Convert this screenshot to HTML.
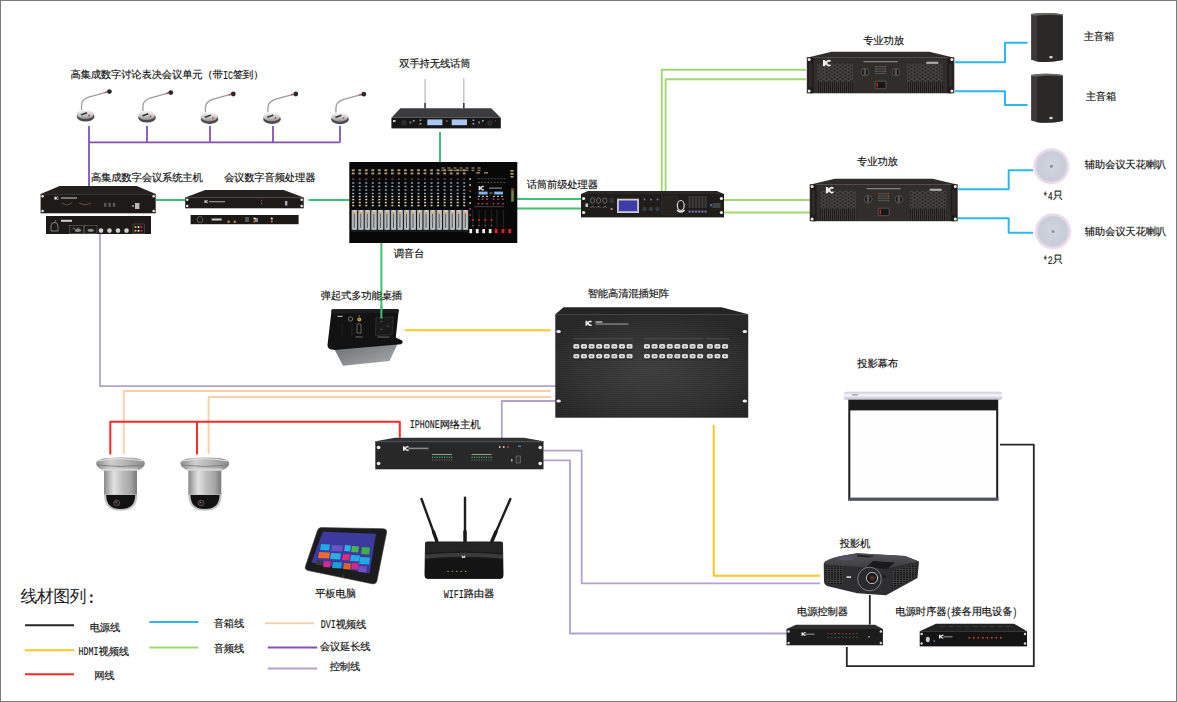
<!DOCTYPE html><html><head><meta charset="utf-8"><style>
html,body{margin:0;padding:0;background:#fff;overflow:hidden;}
svg{display:block;font-family:"Liberation Sans", sans-serif;}
text{text-rendering:geometricPrecision;}
</style></head><body>
<svg width="1177" height="702" viewBox="0 0 1177 702">
<defs>
<linearGradient id="micbase" x1="0" y1="0" x2="0" y2="1"><stop offset="0" stop-color="#fafafa"/><stop offset="0.6" stop-color="#c4c4c4"/><stop offset="1" stop-color="#8a8a8a"/></linearGradient>
<linearGradient id="cam" x1="0" y1="0" x2="1" y2="0"><stop offset="0" stop-color="#8a8a8a"/><stop offset="0.3" stop-color="#e2e2e2"/><stop offset="0.55" stop-color="#bdbdbd"/><stop offset="0.8" stop-color="#a6a6a6"/><stop offset="1" stop-color="#7a7a7a"/></linearGradient>
<linearGradient id="camfl" x1="0" y1="0" x2="1" y2="0"><stop offset="0" stop-color="#8a8a8a"/><stop offset="0.3" stop-color="#cfcfcf"/><stop offset="0.6" stop-color="#b5b5b5"/><stop offset="1" stop-color="#8c8c8c"/></linearGradient>
<radialGradient id="ceil" cx="0.5" cy="0.5" r="0.5"><stop offset="0" stop-color="#d2d6e0"/><stop offset="0.8" stop-color="#c8ccd8"/><stop offset="0.87" stop-color="#e4dae8"/><stop offset="1" stop-color="#f5deee"/></radialGradient>
<linearGradient id="sock" x1="0" y1="0" x2="1" y2="1"><stop offset="0" stop-color="#6a6e71"/><stop offset="0.6" stop-color="#8e9295"/><stop offset="1" stop-color="#a9adb0"/></linearGradient>
<linearGradient id="roller" x1="0" y1="0" x2="0" y2="1"><stop offset="0" stop-color="#cdcad8"/><stop offset="0.45" stop-color="#f6f6fa"/><stop offset="1" stop-color="#bcb9ca"/></linearGradient>
<radialGradient id="mat" cx="0.5" cy="0.55" r="0.6"><stop offset="0" stop-color="#424242"/><stop offset="0.6" stop-color="#363636"/><stop offset="1" stop-color="#2a2a2a"/></radialGradient>
<linearGradient id="spk" x1="0" y1="0" x2="0" y2="1"><stop offset="0" stop-color="#5a5756"/><stop offset="0.08" stop-color="#2e2c2b"/><stop offset="1" stop-color="#2a2828"/></linearGradient>
<linearGradient id="proj" x1="0" y1="0" x2="0" y2="1"><stop offset="0" stop-color="#55555a"/><stop offset="1" stop-color="#3a3a3e"/></linearGradient>
<linearGradient id="fader" x1="0" y1="0" x2="1" y2="0"><stop offset="0" stop-color="#9ea5aa"/><stop offset="0.5" stop-color="#c9cfd2"/><stop offset="1" stop-color="#a9b0b4"/></linearGradient>
<pattern id="grill" width="5.5" height="3.4" patternUnits="userSpaceOnUse"><rect width="5.5" height="3.4" fill="#4a4542"/><circle cx="1.4" cy="0.85" r="0.95" fill="#1a1715"/><circle cx="4.15" cy="2.55" r="0.95" fill="#1a1715"/></pattern>
<pattern id="vent" width="2" height="2" patternUnits="userSpaceOnUse"><rect width="2" height="2" fill="#3c3836"/><rect width="1" height="2" fill="#1d1a18"/></pattern>
<pattern id="pvent" width="3" height="2.2" patternUnits="userSpaceOnUse"><rect width="3" height="2.2" fill="#444"/><rect width="2.2" height="1.3" fill="#111"/></pattern>
<pattern id="brush" width="4" height="2" patternUnits="userSpaceOnUse"><rect width="4" height="1" fill="#000" opacity="0.1"/></pattern>
</defs>
<rect x="0.5" y="0.5" width="1176" height="701" fill="#fff" stroke="#7a7a7a" stroke-width="1"/>

<path d="M89.00,126.00 L89.00,194.00" fill="none" stroke="#8650b8" stroke-width="1.8" stroke-linejoin="round" />
<path d="M89.00,142.30 L340.00,142.30" fill="none" stroke="#8650b8" stroke-width="1.8" stroke-linejoin="round" />
<path d="M147.00,126.00 L147.00,142.30" fill="none" stroke="#8650b8" stroke-width="1.8" stroke-linejoin="round" />
<path d="M210.00,126.00 L210.00,142.30" fill="none" stroke="#8650b8" stroke-width="1.8" stroke-linejoin="round" />
<path d="M273.00,126.00 L273.00,142.30" fill="none" stroke="#8650b8" stroke-width="1.8" stroke-linejoin="round" />
<path d="M340.00,126.00 L340.00,142.30" fill="none" stroke="#8650b8" stroke-width="1.8" stroke-linejoin="round" />
<path d="M156.00,200.00 L186.00,200.00" fill="none" stroke="#3cc172" stroke-width="2" stroke-linejoin="round" />
<path d="M308.50,200.00 L349.00,200.00" fill="none" stroke="#3cc172" stroke-width="2" stroke-linejoin="round" />
<path d="M440.00,132.00 L440.00,162.00" fill="none" stroke="#3cc172" stroke-width="2" stroke-linejoin="round" />
<path d="M517.00,199.00 L581.00,199.00" fill="none" stroke="#3cc172" stroke-width="2" stroke-linejoin="round" />
<path d="M517.00,208.60 L581.00,208.60" fill="none" stroke="#3cc172" stroke-width="2" stroke-linejoin="round" />
<path d="M381.40,243.00 L381.40,318.60" fill="none" stroke="#3cc172" stroke-width="2" stroke-linejoin="round" />
<path d="M806.00,69.80 L661.70,69.80 L661.70,191.00" fill="none" stroke="#a0d870" stroke-width="1.9" stroke-linejoin="round" />
<path d="M806.00,79.30 L665.60,79.30 L665.60,191.00" fill="none" stroke="#a0d870" stroke-width="1.9" stroke-linejoin="round" />
<path d="M724.00,200.00 L810.00,200.00" fill="none" stroke="#a0d870" stroke-width="1.9" stroke-linejoin="round" />
<path d="M724.00,212.50 L810.00,212.50" fill="none" stroke="#a0d870" stroke-width="1.9" stroke-linejoin="round" />
<path d="M955.00,62.20 L1005.00,62.20 L1005.00,42.70 L1027.60,42.70" fill="none" stroke="#2bb8ee" stroke-width="2" stroke-linejoin="round" />
<path d="M955.00,91.20 L1005.00,91.20 L1005.00,105.10 L1027.60,105.10" fill="none" stroke="#2bb8ee" stroke-width="2" stroke-linejoin="round" />
<path d="M958.00,189.30 L1008.70,189.30 L1008.70,170.30 L1033.00,170.30" fill="none" stroke="#2bb8ee" stroke-width="2" stroke-linejoin="round" />
<path d="M958.00,218.30 L1008.70,218.30 L1008.70,232.70 L1033.00,232.70" fill="none" stroke="#2bb8ee" stroke-width="2" stroke-linejoin="round" />
<path d="M100.00,234.00 L100.00,386.20 L558.00,386.20" fill="none" stroke="#b3a2cc" stroke-width="1.8" stroke-linejoin="round" />
<path d="M501.80,441.00 L501.80,401.00 L559.00,401.00" fill="none" stroke="#b3a2cc" stroke-width="1.8" stroke-linejoin="round" />
<path d="M543.50,450.70 L581.70,450.70 L581.70,583.30 L820.00,583.30" fill="none" stroke="#b3a2cc" stroke-width="1.8" stroke-linejoin="round" />
<path d="M543.50,460.30 L570.00,460.30 L570.00,633.50 L786.70,633.50" fill="none" stroke="#b3a2cc" stroke-width="1.8" stroke-linejoin="round" />
<path d="M123.80,454.00 L123.80,391.00 L550.50,391.00" fill="none" stroke="#f7cfaa" stroke-width="1.9" stroke-linejoin="round" />
<path d="M208.60,454.00 L208.60,397.00 L551.00,397.00" fill="none" stroke="#f7cfaa" stroke-width="1.9" stroke-linejoin="round" />
<path d="M110.30,454.40 L110.30,421.80 L399.80,421.80 L399.80,437.70" fill="none" stroke="#ff2a2a" stroke-width="2" stroke-linejoin="round" />
<path d="M197.00,421.80 L197.00,454.40" fill="none" stroke="#ff2a2a" stroke-width="2" stroke-linejoin="round" />
<path d="M405.00,330.20 L550.70,330.20" fill="none" stroke="#ffc428" stroke-width="2" stroke-linejoin="round" />
<path d="M713.70,425.00 L713.70,575.80 L820.00,575.80" fill="none" stroke="#ffc428" stroke-width="2" stroke-linejoin="round" />
<path d="M869.80,595.00 L869.80,624.60" fill="none" stroke="#262626" stroke-width="1.8" stroke-linejoin="round" />
<path d="M846.80,647.00 L846.80,666.20 L1033.80,666.20 L1033.80,444.60 L1000.00,444.60" fill="none" stroke="#262626" stroke-width="1.8" stroke-linejoin="round" />
<g transform="translate(0,0)">
<path d="M81.6,110 C81.1,102 82.1,99.5 88.6,97 L107.6,91.8" fill="none" stroke="#9c9c9c" stroke-width="1.3"/>
<line x1="104.6" y1="92.6" x2="107.1" y2="91.9" stroke="#c44" stroke-width="1.3"/>
<circle cx="109.39999999999999" cy="91.6" r="2.4" fill="#2a2a2a"/>
<ellipse cx="85.6" cy="116.6" rx="8.8" ry="5" fill="#4a4a4a"/>
<ellipse cx="85.3" cy="114.4" rx="8.3" ry="4.7" fill="url(#micbase)"/>
<path d="M80.6,114.2 L86.6,112 L87.39999999999999,113.4 L81.39999999999999,115.6 Z" fill="#2e3a34"/>
<circle cx="89.1" cy="115.5" r="0.9" fill="#e03030"/>
</g>
<g transform="translate(0,1)">
<path d="M143,110 C142.5,102 143.5,99.5 150,97 L169,91.8" fill="none" stroke="#9c9c9c" stroke-width="1.3"/>
<line x1="166" y1="92.6" x2="168.5" y2="91.9" stroke="#c44" stroke-width="1.3"/>
<circle cx="170.8" cy="91.6" r="2.4" fill="#2a2a2a"/>
<ellipse cx="147" cy="116.6" rx="8.8" ry="5" fill="#4a4a4a"/>
<ellipse cx="146.7" cy="114.4" rx="8.3" ry="4.7" fill="url(#micbase)"/>
<path d="M142,114.2 L148,112 L148.8,113.4 L142.8,115.6 Z" fill="#2e3a34"/>
<circle cx="150.5" cy="115.5" r="0.9" fill="#e03030"/>
</g>
<g transform="translate(0,2.4)">
<path d="M205.5,110 C205.0,102 206.0,99.5 212.5,97 L231.5,91.8" fill="none" stroke="#9c9c9c" stroke-width="1.3"/>
<line x1="228.5" y1="92.6" x2="231.0" y2="91.9" stroke="#c44" stroke-width="1.3"/>
<circle cx="233.3" cy="91.6" r="2.4" fill="#2a2a2a"/>
<ellipse cx="209.5" cy="116.6" rx="8.8" ry="5" fill="#4a4a4a"/>
<ellipse cx="209.2" cy="114.4" rx="8.3" ry="4.7" fill="url(#micbase)"/>
<path d="M204.5,114.2 L210.5,112 L211.3,113.4 L205.3,115.6 Z" fill="#2e3a34"/>
<circle cx="213.0" cy="115.5" r="0.9" fill="#e03030"/>
</g>
<g transform="translate(0,2.4)">
<path d="M268,110 C267.5,102 268.5,99.5 275,97 L294,91.8" fill="none" stroke="#9c9c9c" stroke-width="1.3"/>
<line x1="291" y1="92.6" x2="293.5" y2="91.9" stroke="#c44" stroke-width="1.3"/>
<circle cx="295.8" cy="91.6" r="2.4" fill="#2a2a2a"/>
<ellipse cx="272" cy="116.6" rx="8.8" ry="5" fill="#4a4a4a"/>
<ellipse cx="271.7" cy="114.4" rx="8.3" ry="4.7" fill="url(#micbase)"/>
<path d="M267,114.2 L273,112 L273.8,113.4 L267.8,115.6 Z" fill="#2e3a34"/>
<circle cx="275.5" cy="115.5" r="0.9" fill="#e03030"/>
</g>
<g transform="translate(0,2.6)">
<path d="M336,110 C335.5,102 336.5,99.5 343,97 L362,91.8" fill="none" stroke="#9c9c9c" stroke-width="1.3"/>
<line x1="359" y1="92.6" x2="361.5" y2="91.9" stroke="#c44" stroke-width="1.3"/>
<circle cx="363.8" cy="91.6" r="2.4" fill="#2a2a2a"/>
<ellipse cx="340" cy="116.6" rx="8.8" ry="5" fill="#4a4a4a"/>
<ellipse cx="339.7" cy="114.4" rx="8.3" ry="4.7" fill="url(#micbase)"/>
<path d="M335,114.2 L341,112 L341.8,113.4 L335.8,115.6 Z" fill="#2e3a34"/>
<circle cx="343.5" cy="115.5" r="0.9" fill="#e03030"/>
</g>
<polygon points="59.6,186 136.7,186 155.7,194 40.6,194" fill="#24201d"/>
<rect x="40.60" y="194.00" width="115.10" height="19.30" fill="#1d1a17" />
<circle cx="42.6" cy="196.3" r="1.3" fill="#e8e8e8"/>
<circle cx="42.6" cy="211.0" r="1.3" fill="#e8e8e8"/>
<circle cx="153.7" cy="196.3" r="1.3" fill="#e8e8e8"/>
<circle cx="153.7" cy="211.0" r="1.3" fill="#e8e8e8"/>
<line x1="40.6" y1="194.4" x2="155.7" y2="194.4" stroke="#4a4542" stroke-width="0.6"/>
<path d="M54.5,196.6 L55.396,196.6 L56.484,198.2 L55.396,199.79999999999998 L54.5,199.79999999999998 Z" fill="#eee"/>
<path d="M58.403999999999996,197.23999999999998 Q57.7,196.856 57.38,196.92 Q56.292,197.23999999999998 56.292,198.2 Q56.292,199.16 57.38,199.48 Q57.7,199.54399999999998 58.403999999999996,199.16" stroke="#eee" stroke-width="0.96" fill="none"/>
<rect x="61.00" y="197.20" width="16.00" height="1.60" fill="#8a8a8a" />
<path d="M61.6,203 L67,205 L72,203 M79,203 L85,205 L91,203" stroke="#a46a5a" stroke-width="0.6" fill="none"/>
<rect x="104.00" y="202.80" width="2.40" height="4.00" fill="#5a5653" />
<rect x="108.40" y="202.80" width="2.40" height="4.00" fill="#5a5653" />
<rect x="112.80" y="202.80" width="2.40" height="4.00" fill="#5a5653" />
<rect x="135.00" y="203.00" width="4.40" height="6.00" fill="#bbb" />
<rect x="132.00" y="205.00" width="2.00" height="2.00" fill="#888" />
<rect x="46.00" y="216.00" width="105.00" height="18.00" fill="#1c1917" />
<path d="M51,231 L51,226 Q51,222.5 54.5,222.5 Q58,222.5 58,226 L58,231 Z" fill="none" stroke="#aaa" stroke-width="0.7"/>
<line x1="54.5" y1="222.5" x2="56" y2="220" stroke="#aaa" stroke-width="0.6"/>
<rect x="61.00" y="219.80" width="11.00" height="2.00" fill="#cfcfcf" />
<rect x="69.40" y="225.70" width="14.00" height="7.60" fill="none" stroke="#777" stroke-width="0.5"/>
<rect x="84.40" y="225.70" width="12.60" height="7.60" fill="none" stroke="#777" stroke-width="0.5"/>
<path d="M72,229.5 L74,227.5 L76,231.5 L78,227.5 L80,229.5" stroke="#999" stroke-width="0.6" fill="none"/>
<ellipse cx="90.7" cy="230.3" rx="3.2" ry="1.6" fill="#8a8a8a"/>
<ellipse cx="78" cy="230.3" rx="3.2" ry="1.6" fill="#8a8a8a"/>
<circle cx="101" cy="230.6" r="2.3" fill="#d0d0d0"/>
<circle cx="109.5" cy="230.6" r="2.3" fill="#d0d0d0"/>
<circle cx="118" cy="230.6" r="2.3" fill="#d0d0d0"/>
<circle cx="126.5" cy="230.6" r="2.3" fill="#d0d0d0"/>
<circle cx="135.5" cy="227" r="1" fill="#e0c030"/>
<circle cx="135.5" cy="230.8" r="1" fill="#e0c030"/>
<circle cx="138.5" cy="227" r="1" fill="#eeeeee"/>
<circle cx="138.5" cy="230.8" r="1" fill="#eeeeee"/>
<circle cx="141.5" cy="227" r="1" fill="#d03030"/>
<circle cx="141.5" cy="230.8" r="1" fill="#d03030"/>
<rect x="133.00" y="224.00" width="11.50" height="9.50" fill="none" stroke="#666" stroke-width="0.5"/>
<polygon points="205.2,190 283.7,190 303.7,197.4 185.2,197.4" fill="#24201d"/>
<rect x="185.20" y="197.40" width="118.50" height="10.90" fill="#1d1a17" />
<circle cx="187.2" cy="199.70000000000002" r="1.3" fill="#e8e8e8"/>
<circle cx="187.2" cy="206.0" r="1.3" fill="#e8e8e8"/>
<circle cx="301.7" cy="199.70000000000002" r="1.3" fill="#e8e8e8"/>
<circle cx="301.7" cy="206.0" r="1.3" fill="#e8e8e8"/>
<line x1="185.2" y1="197.8" x2="303.7" y2="197.8" stroke="#4a4542" stroke-width="0.6"/>
<path d="M204.5,200.2 L205.284,200.2 L206.236,201.6 L205.284,203.0 L204.5,203.0 Z" fill="#eee"/>
<path d="M207.916,200.76 Q207.3,200.42399999999998 207.02,200.48 Q206.068,200.76 206.068,201.6 Q206.068,202.44 207.02,202.72 Q207.3,202.77599999999998 207.916,202.44" stroke="#eee" stroke-width="0.84" fill="none"/>
<rect x="209.00" y="201.00" width="16.00" height="1.30" fill="#888" />
<circle cx="261.5" cy="200.5" r="0.7" fill="#d33"/><circle cx="261.5" cy="203.5" r="0.7" fill="#777"/>
<rect x="285.00" y="201.00" width="2.40" height="4.50" fill="#aab" />
<rect x="190.60" y="215.00" width="108.00" height="9.20" fill="#1c1917" />
<circle cx="200" cy="219.5" r="3" fill="none" stroke="#888" stroke-width="0.6"/>
<rect x="211.60" y="218.50" width="10.00" height="2.00" fill="#ccc" />
<circle cx="228.6" cy="221.8" r="1.2" fill="#b8962a"/><circle cx="234.8" cy="221.8" r="1.2" fill="#b8962a"/>
<rect x="245.00" y="217.00" width="4.00" height="5.00" fill="#555" />
<rect x="255.00" y="218.00" width="3.00" height="4.00" fill="#888" />
<circle cx="254.5" cy="218.5" r="1.1" fill="#eee"/><circle cx="254.5" cy="221.5" r="1.1" fill="#e07040"/>
<circle cx="271.8" cy="218.5" r="1.1" fill="#eee"/><circle cx="271.8" cy="221.5" r="1.1" fill="#e07040"/>
<line x1="425.1" y1="79" x2="425.1" y2="108.5" stroke="#b8b8b8" stroke-width="1.2"/>
<line x1="463.8" y1="78.3" x2="463.8" y2="108.5" stroke="#b8b8b8" stroke-width="1.2"/>
<line x1="425.1" y1="103" x2="425.1" y2="108.5" stroke="#333" stroke-width="1.5"/>
<line x1="463.8" y1="103" x2="463.8" y2="108.5" stroke="#333" stroke-width="1.5"/>
<polygon points="400.4,108.2 491.2,108.2 500.8,117.8 391.4,117.8" fill="#3c3c3e"/>
<rect x="391.40" y="117.80" width="109.40" height="10.60" fill="#161616" />
<rect x="427.30" y="119.40" width="15.10" height="5.80" fill="#a9c6ee" />
<rect x="451.70" y="119.40" width="15.30" height="5.80" fill="#a9c6ee" />
<circle cx="446.8" cy="121" r="0.9" fill="#d04030"/>
<rect x="419.50" y="119.50" width="1.80" height="1.60" fill="#999" />
<rect x="419.50" y="123.00" width="1.80" height="1.60" fill="#999" />
<rect x="472.50" y="119.50" width="1.80" height="1.60" fill="#999" />
<rect x="472.50" y="123.00" width="1.80" height="1.60" fill="#999" />
<rect x="393.00" y="120.00" width="2.50" height="2.00" fill="#ccc" />
<circle cx="404" cy="123" r="2.2" fill="#222" stroke="#555" stroke-width="0.5"/><circle cx="404" cy="122" r="0.5" fill="#c33"/>
<circle cx="490" cy="123" r="2.2" fill="#222" stroke="#555" stroke-width="0.5"/><circle cx="495.5" cy="120.5" r="0.6" fill="#c33"/>
<rect x="409.50" y="121.50" width="2.00" height="2.00" fill="#777" />
<rect x="413.00" y="120.00" width="1.60" height="1.60" fill="#aaa" />
<rect x="478.00" y="121.50" width="2.00" height="2.00" fill="#777" />
<rect x="482.00" y="120.00" width="1.60" height="1.60" fill="#aaa" />
<rect x="349.30" y="162.00" width="168.00" height="81.00" fill="#080808" />
<rect x="351.80" y="169.30" width="2.80" height="1.90" fill="#b09a70" />
<rect x="351.80" y="172.50" width="2.80" height="1.90" fill="#b09a70" />
<rect x="352.30" y="178.40" width="1.80" height="1.40" fill="#a04060" />
<rect x="352.20" y="182.30" width="2.00" height="1.40" fill="#8fb0d0" />
<rect x="352.20" y="185.80" width="2.00" height="1.40" fill="#8fb0d0" />
<rect x="352.20" y="189.30" width="2.00" height="1.40" fill="#8fb0d0" />
<rect x="352.20" y="192.80" width="2.00" height="1.40" fill="#8fb0d0" />
<rect x="352.20" y="195.80" width="2.00" height="1.50" fill="#d8ceb0" />
<rect x="352.20" y="198.80" width="2.00" height="1.50" fill="#d8ceb0" />
<rect x="352.20" y="201.80" width="2.00" height="1.50" fill="#d8ceb0" />
<rect x="352.20" y="204.80" width="2.00" height="1.50" fill="#d8ceb0" />
<rect x="358.33" y="169.30" width="2.80" height="1.90" fill="#b09a70" />
<rect x="358.33" y="172.50" width="2.80" height="1.90" fill="#b09a70" />
<rect x="358.83" y="178.40" width="1.80" height="1.40" fill="#a04060" />
<rect x="358.73" y="182.30" width="2.00" height="1.40" fill="#8fb0d0" />
<rect x="358.73" y="185.80" width="2.00" height="1.40" fill="#8fb0d0" />
<rect x="358.73" y="189.30" width="2.00" height="1.40" fill="#8fb0d0" />
<rect x="358.73" y="192.80" width="2.00" height="1.40" fill="#8fb0d0" />
<rect x="358.73" y="195.80" width="2.00" height="1.50" fill="#d8ceb0" />
<rect x="358.73" y="198.80" width="2.00" height="1.50" fill="#d8ceb0" />
<rect x="358.73" y="201.80" width="2.00" height="1.50" fill="#d8ceb0" />
<rect x="358.73" y="204.80" width="2.00" height="1.50" fill="#d8ceb0" />
<rect x="364.86" y="169.30" width="2.80" height="1.90" fill="#b09a70" />
<rect x="364.86" y="172.50" width="2.80" height="1.90" fill="#b09a70" />
<rect x="365.36" y="178.40" width="1.80" height="1.40" fill="#a04060" />
<rect x="365.26" y="182.30" width="2.00" height="1.40" fill="#8fb0d0" />
<rect x="365.26" y="185.80" width="2.00" height="1.40" fill="#8fb0d0" />
<rect x="365.26" y="189.30" width="2.00" height="1.40" fill="#8fb0d0" />
<rect x="365.26" y="192.80" width="2.00" height="1.40" fill="#8fb0d0" />
<rect x="365.26" y="195.80" width="2.00" height="1.50" fill="#d8ceb0" />
<rect x="365.26" y="198.80" width="2.00" height="1.50" fill="#d8ceb0" />
<rect x="365.26" y="201.80" width="2.00" height="1.50" fill="#d8ceb0" />
<rect x="365.26" y="204.80" width="2.00" height="1.50" fill="#d8ceb0" />
<rect x="371.39" y="169.30" width="2.80" height="1.90" fill="#b09a70" />
<rect x="371.39" y="172.50" width="2.80" height="1.90" fill="#b09a70" />
<rect x="371.89" y="178.40" width="1.80" height="1.40" fill="#a04060" />
<rect x="371.79" y="182.30" width="2.00" height="1.40" fill="#8fb0d0" />
<rect x="371.79" y="185.80" width="2.00" height="1.40" fill="#8fb0d0" />
<rect x="371.79" y="189.30" width="2.00" height="1.40" fill="#8fb0d0" />
<rect x="371.79" y="192.80" width="2.00" height="1.40" fill="#8fb0d0" />
<rect x="371.79" y="195.80" width="2.00" height="1.50" fill="#d8ceb0" />
<rect x="371.79" y="198.80" width="2.00" height="1.50" fill="#d8ceb0" />
<rect x="371.79" y="201.80" width="2.00" height="1.50" fill="#d8ceb0" />
<rect x="371.79" y="204.80" width="2.00" height="1.50" fill="#d8ceb0" />
<rect x="377.92" y="169.30" width="2.80" height="1.90" fill="#b09a70" />
<rect x="377.92" y="172.50" width="2.80" height="1.90" fill="#b09a70" />
<rect x="378.42" y="178.40" width="1.80" height="1.40" fill="#a04060" />
<rect x="378.32" y="182.30" width="2.00" height="1.40" fill="#8fb0d0" />
<rect x="378.32" y="185.80" width="2.00" height="1.40" fill="#8fb0d0" />
<rect x="378.32" y="189.30" width="2.00" height="1.40" fill="#8fb0d0" />
<rect x="378.32" y="192.80" width="2.00" height="1.40" fill="#8fb0d0" />
<rect x="378.32" y="195.80" width="2.00" height="1.50" fill="#d8ceb0" />
<rect x="378.32" y="198.80" width="2.00" height="1.50" fill="#d8ceb0" />
<rect x="378.32" y="201.80" width="2.00" height="1.50" fill="#d8ceb0" />
<rect x="378.32" y="204.80" width="2.00" height="1.50" fill="#d8ceb0" />
<rect x="384.45" y="169.30" width="2.80" height="1.90" fill="#b09a70" />
<rect x="384.45" y="172.50" width="2.80" height="1.90" fill="#b09a70" />
<rect x="384.95" y="178.40" width="1.80" height="1.40" fill="#a04060" />
<rect x="384.85" y="182.30" width="2.00" height="1.40" fill="#8fb0d0" />
<rect x="384.85" y="185.80" width="2.00" height="1.40" fill="#8fb0d0" />
<rect x="384.85" y="189.30" width="2.00" height="1.40" fill="#8fb0d0" />
<rect x="384.85" y="192.80" width="2.00" height="1.40" fill="#8fb0d0" />
<rect x="384.85" y="195.80" width="2.00" height="1.50" fill="#d8ceb0" />
<rect x="384.85" y="198.80" width="2.00" height="1.50" fill="#d8ceb0" />
<rect x="384.85" y="201.80" width="2.00" height="1.50" fill="#d8ceb0" />
<rect x="384.85" y="204.80" width="2.00" height="1.50" fill="#d8ceb0" />
<rect x="390.98" y="169.30" width="2.80" height="1.90" fill="#b09a70" />
<rect x="390.98" y="172.50" width="2.80" height="1.90" fill="#b09a70" />
<rect x="391.48" y="178.40" width="1.80" height="1.40" fill="#a04060" />
<rect x="391.38" y="182.30" width="2.00" height="1.40" fill="#8fb0d0" />
<rect x="391.38" y="185.80" width="2.00" height="1.40" fill="#8fb0d0" />
<rect x="391.38" y="189.30" width="2.00" height="1.40" fill="#8fb0d0" />
<rect x="391.38" y="192.80" width="2.00" height="1.40" fill="#8fb0d0" />
<rect x="391.38" y="195.80" width="2.00" height="1.50" fill="#d8ceb0" />
<rect x="391.38" y="198.80" width="2.00" height="1.50" fill="#d8ceb0" />
<rect x="391.38" y="201.80" width="2.00" height="1.50" fill="#d8ceb0" />
<rect x="391.38" y="204.80" width="2.00" height="1.50" fill="#d8ceb0" />
<rect x="397.51" y="169.30" width="2.80" height="1.90" fill="#b09a70" />
<rect x="397.51" y="172.50" width="2.80" height="1.90" fill="#b09a70" />
<rect x="398.01" y="178.40" width="1.80" height="1.40" fill="#a04060" />
<rect x="397.91" y="182.30" width="2.00" height="1.40" fill="#8fb0d0" />
<rect x="397.91" y="185.80" width="2.00" height="1.40" fill="#8fb0d0" />
<rect x="397.91" y="189.30" width="2.00" height="1.40" fill="#8fb0d0" />
<rect x="397.91" y="192.80" width="2.00" height="1.40" fill="#8fb0d0" />
<rect x="397.91" y="195.80" width="2.00" height="1.50" fill="#d8ceb0" />
<rect x="397.91" y="198.80" width="2.00" height="1.50" fill="#d8ceb0" />
<rect x="397.91" y="201.80" width="2.00" height="1.50" fill="#d8ceb0" />
<rect x="397.91" y="204.80" width="2.00" height="1.50" fill="#d8ceb0" />
<rect x="404.04" y="169.30" width="2.80" height="1.90" fill="#b09a70" />
<rect x="404.04" y="172.50" width="2.80" height="1.90" fill="#b09a70" />
<rect x="404.54" y="178.40" width="1.80" height="1.40" fill="#a04060" />
<rect x="404.44" y="182.30" width="2.00" height="1.40" fill="#8fb0d0" />
<rect x="404.44" y="185.80" width="2.00" height="1.40" fill="#8fb0d0" />
<rect x="404.44" y="189.30" width="2.00" height="1.40" fill="#8fb0d0" />
<rect x="404.44" y="192.80" width="2.00" height="1.40" fill="#8fb0d0" />
<rect x="404.44" y="195.80" width="2.00" height="1.50" fill="#d8ceb0" />
<rect x="404.44" y="198.80" width="2.00" height="1.50" fill="#d8ceb0" />
<rect x="404.44" y="201.80" width="2.00" height="1.50" fill="#d8ceb0" />
<rect x="404.44" y="204.80" width="2.00" height="1.50" fill="#d8ceb0" />
<rect x="410.57" y="169.30" width="2.80" height="1.90" fill="#b09a70" />
<rect x="410.57" y="172.50" width="2.80" height="1.90" fill="#b09a70" />
<rect x="411.07" y="178.40" width="1.80" height="1.40" fill="#a04060" />
<rect x="410.97" y="182.30" width="2.00" height="1.40" fill="#8fb0d0" />
<rect x="410.97" y="185.80" width="2.00" height="1.40" fill="#8fb0d0" />
<rect x="410.97" y="189.30" width="2.00" height="1.40" fill="#8fb0d0" />
<rect x="410.97" y="192.80" width="2.00" height="1.40" fill="#8fb0d0" />
<rect x="410.97" y="195.80" width="2.00" height="1.50" fill="#d8ceb0" />
<rect x="410.97" y="198.80" width="2.00" height="1.50" fill="#d8ceb0" />
<rect x="410.97" y="201.80" width="2.00" height="1.50" fill="#d8ceb0" />
<rect x="410.97" y="204.80" width="2.00" height="1.50" fill="#d8ceb0" />
<rect x="417.10" y="169.30" width="2.80" height="1.90" fill="#b09a70" />
<rect x="417.10" y="172.50" width="2.80" height="1.90" fill="#b09a70" />
<rect x="417.60" y="178.40" width="1.80" height="1.40" fill="#a04060" />
<rect x="417.50" y="182.30" width="2.00" height="1.40" fill="#8fb0d0" />
<rect x="417.50" y="185.80" width="2.00" height="1.40" fill="#8fb0d0" />
<rect x="417.50" y="189.30" width="2.00" height="1.40" fill="#8fb0d0" />
<rect x="417.50" y="192.80" width="2.00" height="1.40" fill="#8fb0d0" />
<rect x="417.50" y="195.80" width="2.00" height="1.50" fill="#d8ceb0" />
<rect x="417.50" y="198.80" width="2.00" height="1.50" fill="#d8ceb0" />
<rect x="417.50" y="201.80" width="2.00" height="1.50" fill="#d8ceb0" />
<rect x="417.50" y="204.80" width="2.00" height="1.50" fill="#d8ceb0" />
<rect x="423.63" y="169.30" width="2.80" height="1.90" fill="#b09a70" />
<rect x="423.63" y="172.50" width="2.80" height="1.90" fill="#b09a70" />
<rect x="424.13" y="178.40" width="1.80" height="1.40" fill="#a04060" />
<rect x="424.03" y="182.30" width="2.00" height="1.40" fill="#8fb0d0" />
<rect x="424.03" y="185.80" width="2.00" height="1.40" fill="#8fb0d0" />
<rect x="424.03" y="189.30" width="2.00" height="1.40" fill="#8fb0d0" />
<rect x="424.03" y="192.80" width="2.00" height="1.40" fill="#8fb0d0" />
<rect x="424.03" y="195.80" width="2.00" height="1.50" fill="#d8ceb0" />
<rect x="424.03" y="198.80" width="2.00" height="1.50" fill="#d8ceb0" />
<rect x="424.03" y="201.80" width="2.00" height="1.50" fill="#d8ceb0" />
<rect x="424.03" y="204.80" width="2.00" height="1.50" fill="#d8ceb0" />
<rect x="430.16" y="169.30" width="2.80" height="1.90" fill="#b09a70" />
<rect x="430.16" y="172.50" width="2.80" height="1.90" fill="#b09a70" />
<rect x="430.66" y="178.40" width="1.80" height="1.40" fill="#a04060" />
<rect x="430.56" y="182.30" width="2.00" height="1.40" fill="#8fb0d0" />
<rect x="430.56" y="185.80" width="2.00" height="1.40" fill="#8fb0d0" />
<rect x="430.56" y="189.30" width="2.00" height="1.40" fill="#8fb0d0" />
<rect x="430.56" y="192.80" width="2.00" height="1.40" fill="#8fb0d0" />
<rect x="430.56" y="195.80" width="2.00" height="1.50" fill="#d8ceb0" />
<rect x="430.56" y="198.80" width="2.00" height="1.50" fill="#d8ceb0" />
<rect x="430.56" y="201.80" width="2.00" height="1.50" fill="#d8ceb0" />
<rect x="430.56" y="204.80" width="2.00" height="1.50" fill="#d8ceb0" />
<rect x="436.69" y="169.30" width="2.80" height="1.90" fill="#b09a70" />
<rect x="436.69" y="172.50" width="2.80" height="1.90" fill="#b09a70" />
<rect x="437.19" y="178.40" width="1.80" height="1.40" fill="#a04060" />
<rect x="437.09" y="182.30" width="2.00" height="1.40" fill="#8fb0d0" />
<rect x="437.09" y="185.80" width="2.00" height="1.40" fill="#8fb0d0" />
<rect x="437.09" y="189.30" width="2.00" height="1.40" fill="#8fb0d0" />
<rect x="437.09" y="192.80" width="2.00" height="1.40" fill="#8fb0d0" />
<rect x="437.09" y="195.80" width="2.00" height="1.50" fill="#d8ceb0" />
<rect x="437.09" y="198.80" width="2.00" height="1.50" fill="#d8ceb0" />
<rect x="437.09" y="201.80" width="2.00" height="1.50" fill="#d8ceb0" />
<rect x="437.09" y="204.80" width="2.00" height="1.50" fill="#d8ceb0" />
<rect x="443.22" y="169.30" width="2.80" height="1.90" fill="#b09a70" />
<rect x="443.22" y="172.50" width="2.80" height="1.90" fill="#b09a70" />
<rect x="443.72" y="178.40" width="1.80" height="1.40" fill="#a04060" />
<rect x="443.62" y="182.30" width="2.00" height="1.40" fill="#8fb0d0" />
<rect x="443.62" y="185.80" width="2.00" height="1.40" fill="#8fb0d0" />
<rect x="443.62" y="189.30" width="2.00" height="1.40" fill="#8fb0d0" />
<rect x="443.62" y="192.80" width="2.00" height="1.40" fill="#8fb0d0" />
<rect x="443.62" y="195.80" width="2.00" height="1.50" fill="#d8ceb0" />
<rect x="443.62" y="198.80" width="2.00" height="1.50" fill="#d8ceb0" />
<rect x="443.62" y="201.80" width="2.00" height="1.50" fill="#d8ceb0" />
<rect x="443.62" y="204.80" width="2.00" height="1.50" fill="#d8ceb0" />
<rect x="449.75" y="169.30" width="2.80" height="1.90" fill="#b09a70" />
<rect x="449.75" y="172.50" width="2.80" height="1.90" fill="#b09a70" />
<rect x="450.25" y="178.40" width="1.80" height="1.40" fill="#a04060" />
<rect x="450.15" y="182.30" width="2.00" height="1.40" fill="#8fb0d0" />
<rect x="450.15" y="185.80" width="2.00" height="1.40" fill="#8fb0d0" />
<rect x="450.15" y="189.30" width="2.00" height="1.40" fill="#8fb0d0" />
<rect x="450.15" y="192.80" width="2.00" height="1.40" fill="#8fb0d0" />
<rect x="450.15" y="195.80" width="2.00" height="1.50" fill="#d8ceb0" />
<rect x="450.15" y="198.80" width="2.00" height="1.50" fill="#d8ceb0" />
<rect x="450.15" y="201.80" width="2.00" height="1.50" fill="#d8ceb0" />
<rect x="450.15" y="204.80" width="2.00" height="1.50" fill="#d8ceb0" />
<rect x="456.28" y="169.30" width="2.80" height="1.90" fill="#b09a70" />
<rect x="456.28" y="172.50" width="2.80" height="1.90" fill="#b09a70" />
<rect x="456.78" y="178.40" width="1.80" height="1.40" fill="#a04060" />
<rect x="456.68" y="182.30" width="2.00" height="1.40" fill="#8fb0d0" />
<rect x="456.68" y="185.80" width="2.00" height="1.40" fill="#8fb0d0" />
<rect x="456.68" y="189.30" width="2.00" height="1.40" fill="#8fb0d0" />
<rect x="456.68" y="192.80" width="2.00" height="1.40" fill="#8fb0d0" />
<rect x="456.68" y="195.80" width="2.00" height="1.50" fill="#d8ceb0" />
<rect x="456.68" y="198.80" width="2.00" height="1.50" fill="#d8ceb0" />
<rect x="456.68" y="201.80" width="2.00" height="1.50" fill="#d8ceb0" />
<rect x="456.68" y="204.80" width="2.00" height="1.50" fill="#d8ceb0" />
<rect x="462.81" y="169.30" width="2.80" height="1.90" fill="#b09a70" />
<rect x="462.81" y="172.50" width="2.80" height="1.90" fill="#b09a70" />
<rect x="463.31" y="178.40" width="1.80" height="1.40" fill="#a04060" />
<rect x="463.21" y="182.30" width="2.00" height="1.40" fill="#8fb0d0" />
<rect x="463.21" y="185.80" width="2.00" height="1.40" fill="#8fb0d0" />
<rect x="463.21" y="189.30" width="2.00" height="1.40" fill="#8fb0d0" />
<rect x="463.21" y="192.80" width="2.00" height="1.40" fill="#8fb0d0" />
<rect x="463.21" y="195.80" width="2.00" height="1.50" fill="#d8ceb0" />
<rect x="463.21" y="198.80" width="2.00" height="1.50" fill="#d8ceb0" />
<rect x="463.21" y="201.80" width="2.00" height="1.50" fill="#d8ceb0" />
<rect x="463.21" y="204.80" width="2.00" height="1.50" fill="#d8ceb0" />
<rect x="351.60" y="210.00" width="5.60" height="19.80" fill="url(#fader)" />
<rect x="353.80" y="213.00" width="0.90" height="15.00" fill="#3a3f44" />
<rect x="353.00" y="212.60" width="2.60" height="1.60" fill="#e8983a" />
<rect x="353.20" y="216.50" width="2.20" height="1.00" fill="#9a8a8a" />
<rect x="353.20" y="220.50" width="2.20" height="1.00" fill="#9a8a8a" />
<rect x="358.13" y="210.00" width="5.60" height="19.80" fill="url(#fader)" />
<rect x="360.33" y="213.00" width="0.90" height="15.00" fill="#3a3f44" />
<rect x="359.53" y="212.60" width="2.60" height="1.60" fill="#e8983a" />
<rect x="359.73" y="216.50" width="2.20" height="1.00" fill="#9a8a8a" />
<rect x="359.73" y="220.50" width="2.20" height="1.00" fill="#9a8a8a" />
<rect x="364.66" y="210.00" width="5.60" height="19.80" fill="url(#fader)" />
<rect x="366.86" y="213.00" width="0.90" height="15.00" fill="#3a3f44" />
<rect x="366.06" y="212.60" width="2.60" height="1.60" fill="#e8983a" />
<rect x="366.26" y="216.50" width="2.20" height="1.00" fill="#9a8a8a" />
<rect x="366.26" y="220.50" width="2.20" height="1.00" fill="#9a8a8a" />
<rect x="371.19" y="210.00" width="5.60" height="19.80" fill="url(#fader)" />
<rect x="373.39" y="213.00" width="0.90" height="15.00" fill="#3a3f44" />
<rect x="372.59" y="212.60" width="2.60" height="1.60" fill="#e8983a" />
<rect x="372.79" y="216.50" width="2.20" height="1.00" fill="#9a8a8a" />
<rect x="372.79" y="220.50" width="2.20" height="1.00" fill="#9a8a8a" />
<rect x="377.72" y="210.00" width="5.60" height="19.80" fill="url(#fader)" />
<rect x="379.92" y="213.00" width="0.90" height="15.00" fill="#3a3f44" />
<rect x="379.12" y="212.60" width="2.60" height="1.60" fill="#e8983a" />
<rect x="379.32" y="216.50" width="2.20" height="1.00" fill="#9a8a8a" />
<rect x="379.32" y="220.50" width="2.20" height="1.00" fill="#9a8a8a" />
<rect x="384.25" y="210.00" width="5.60" height="19.80" fill="url(#fader)" />
<rect x="386.45" y="213.00" width="0.90" height="15.00" fill="#3a3f44" />
<rect x="385.65" y="212.60" width="2.60" height="1.60" fill="#e8983a" />
<rect x="385.85" y="216.50" width="2.20" height="1.00" fill="#9a8a8a" />
<rect x="385.85" y="220.50" width="2.20" height="1.00" fill="#9a8a8a" />
<rect x="390.78" y="210.00" width="5.60" height="19.80" fill="url(#fader)" />
<rect x="392.98" y="213.00" width="0.90" height="15.00" fill="#3a3f44" />
<rect x="392.18" y="212.60" width="2.60" height="1.60" fill="#e8983a" />
<rect x="392.38" y="216.50" width="2.20" height="1.00" fill="#9a8a8a" />
<rect x="392.38" y="220.50" width="2.20" height="1.00" fill="#9a8a8a" />
<rect x="397.31" y="210.00" width="5.60" height="19.80" fill="url(#fader)" />
<rect x="399.51" y="213.00" width="0.90" height="15.00" fill="#3a3f44" />
<rect x="398.71" y="212.60" width="2.60" height="1.60" fill="#e8983a" />
<rect x="398.91" y="216.50" width="2.20" height="1.00" fill="#9a8a8a" />
<rect x="398.91" y="220.50" width="2.20" height="1.00" fill="#9a8a8a" />
<rect x="403.84" y="210.00" width="5.60" height="19.80" fill="url(#fader)" />
<rect x="406.04" y="213.00" width="0.90" height="15.00" fill="#3a3f44" />
<rect x="405.24" y="212.60" width="2.60" height="1.60" fill="#e8983a" />
<rect x="405.44" y="216.50" width="2.20" height="1.00" fill="#9a8a8a" />
<rect x="405.44" y="220.50" width="2.20" height="1.00" fill="#9a8a8a" />
<rect x="410.37" y="210.00" width="5.60" height="19.80" fill="url(#fader)" />
<rect x="412.57" y="213.00" width="0.90" height="15.00" fill="#3a3f44" />
<rect x="411.77" y="212.60" width="2.60" height="1.60" fill="#e8983a" />
<rect x="411.97" y="216.50" width="2.20" height="1.00" fill="#9a8a8a" />
<rect x="411.97" y="220.50" width="2.20" height="1.00" fill="#9a8a8a" />
<rect x="416.90" y="210.00" width="5.60" height="19.80" fill="url(#fader)" />
<rect x="419.10" y="213.00" width="0.90" height="15.00" fill="#3a3f44" />
<rect x="418.30" y="212.60" width="2.60" height="1.60" fill="#e8983a" />
<rect x="418.50" y="216.50" width="2.20" height="1.00" fill="#9a8a8a" />
<rect x="418.50" y="220.50" width="2.20" height="1.00" fill="#9a8a8a" />
<rect x="423.43" y="210.00" width="5.60" height="19.80" fill="url(#fader)" />
<rect x="425.63" y="213.00" width="0.90" height="15.00" fill="#3a3f44" />
<rect x="424.83" y="212.60" width="2.60" height="1.60" fill="#e8983a" />
<rect x="425.03" y="216.50" width="2.20" height="1.00" fill="#9a8a8a" />
<rect x="425.03" y="220.50" width="2.20" height="1.00" fill="#9a8a8a" />
<rect x="429.96" y="210.00" width="5.60" height="19.80" fill="url(#fader)" />
<rect x="432.16" y="213.00" width="0.90" height="15.00" fill="#3a3f44" />
<rect x="431.36" y="212.60" width="2.60" height="1.60" fill="#e8983a" />
<rect x="431.56" y="216.50" width="2.20" height="1.00" fill="#9a8a8a" />
<rect x="431.56" y="220.50" width="2.20" height="1.00" fill="#9a8a8a" />
<rect x="436.49" y="210.00" width="5.60" height="19.80" fill="url(#fader)" />
<rect x="438.69" y="213.00" width="0.90" height="15.00" fill="#3a3f44" />
<rect x="437.89" y="212.60" width="2.60" height="1.60" fill="#e8983a" />
<rect x="438.09" y="216.50" width="2.20" height="1.00" fill="#9a8a8a" />
<rect x="438.09" y="220.50" width="2.20" height="1.00" fill="#9a8a8a" />
<rect x="443.02" y="210.00" width="5.60" height="19.80" fill="url(#fader)" />
<rect x="445.22" y="213.00" width="0.90" height="15.00" fill="#3a3f44" />
<rect x="444.42" y="212.60" width="2.60" height="1.60" fill="#e8983a" />
<rect x="444.62" y="216.50" width="2.20" height="1.00" fill="#9a8a8a" />
<rect x="444.62" y="220.50" width="2.20" height="1.00" fill="#9a8a8a" />
<rect x="449.55" y="210.00" width="5.60" height="19.80" fill="url(#fader)" />
<rect x="451.75" y="213.00" width="0.90" height="15.00" fill="#3a3f44" />
<rect x="450.95" y="212.60" width="2.60" height="1.60" fill="#e8983a" />
<rect x="451.15" y="216.50" width="2.20" height="1.00" fill="#9a8a8a" />
<rect x="451.15" y="220.50" width="2.20" height="1.00" fill="#9a8a8a" />
<rect x="456.08" y="210.00" width="5.60" height="19.80" fill="url(#fader)" />
<rect x="458.28" y="213.00" width="0.90" height="15.00" fill="#3a3f44" />
<rect x="457.48" y="212.60" width="2.60" height="1.60" fill="#e8983a" />
<rect x="457.68" y="216.50" width="2.20" height="1.00" fill="#9a8a8a" />
<rect x="457.68" y="220.50" width="2.20" height="1.00" fill="#9a8a8a" />
<rect x="462.61" y="210.00" width="5.60" height="19.80" fill="url(#fader)" />
<rect x="464.81" y="213.00" width="0.90" height="15.00" fill="#3a3f44" />
<rect x="464.01" y="212.60" width="2.60" height="1.60" fill="#e8983a" />
<rect x="464.21" y="216.50" width="2.20" height="1.00" fill="#9a8a8a" />
<rect x="464.21" y="220.50" width="2.20" height="1.00" fill="#9a8a8a" />
<rect x="351.60" y="230.20" width="116.40" height="1.50" fill="#222" />
<rect x="441.50" y="167.30" width="3.00" height="1.40" fill="#8c7a58" />
<rect x="441.50" y="169.70" width="3.00" height="1.40" fill="#8c7a58" />
<rect x="447.50" y="167.30" width="3.00" height="1.40" fill="#8c7a58" />
<rect x="447.50" y="169.70" width="3.00" height="1.40" fill="#8c7a58" />
<rect x="453.50" y="167.30" width="3.00" height="1.40" fill="#8c7a58" />
<rect x="453.50" y="169.70" width="3.00" height="1.40" fill="#8c7a58" />
<rect x="459.50" y="167.30" width="3.00" height="1.40" fill="#8c7a58" />
<rect x="459.50" y="169.70" width="3.00" height="1.40" fill="#8c7a58" />
<rect x="465.50" y="167.30" width="3.00" height="1.40" fill="#8c7a58" />
<rect x="465.50" y="169.70" width="3.00" height="1.40" fill="#8c7a58" />
<rect x="471.50" y="167.30" width="3.00" height="1.40" fill="#8c7a58" />
<rect x="471.50" y="169.70" width="3.00" height="1.40" fill="#8c7a58" />
<rect x="477.50" y="167.30" width="3.00" height="1.40" fill="#8c7a58" />
<rect x="477.50" y="169.70" width="3.00" height="1.40" fill="#8c7a58" />
<rect x="476.00" y="172.00" width="4.00" height="1.60" fill="#8c7a58" />
<rect x="484.00" y="172.00" width="4.00" height="1.60" fill="#8c7a58" />
<rect x="510.50" y="170.00" width="3.00" height="1.50" fill="#8c7a58" />
<rect x="510.50" y="173.00" width="3.00" height="1.50" fill="#8c7a58" />
<path d="M478.6,186 L479.776,186 L481.204,188.1 L479.776,190.2 L478.6,190.2 Z" fill="#e8e8e8"/>
<path d="M483.72400000000005,186.84 Q482.8,186.336 482.38,186.42 Q480.952,186.84 480.952,188.1 Q480.952,189.36 482.38,189.78 Q482.8,189.864 483.72400000000005,189.36" stroke="#e8e8e8" stroke-width="1.26" fill="none"/>
<rect x="489.00" y="187.50" width="13.00" height="1.20" fill="#888" />
<rect x="478.00" y="178.20" width="1.60" height="1.00" fill="#5a5a5a" />
<rect x="481.20" y="178.20" width="1.60" height="1.00" fill="#5a5a5a" />
<rect x="484.40" y="178.20" width="1.60" height="1.00" fill="#5a5a5a" />
<rect x="487.60" y="178.20" width="1.60" height="1.00" fill="#5a5a5a" />
<rect x="490.80" y="178.20" width="1.60" height="1.00" fill="#5a5a5a" />
<rect x="494.00" y="178.20" width="1.60" height="1.00" fill="#5a5a5a" />
<rect x="497.20" y="178.20" width="1.60" height="1.00" fill="#5a5a5a" />
<rect x="500.40" y="178.20" width="1.60" height="1.00" fill="#5a5a5a" />
<rect x="503.60" y="178.20" width="1.60" height="1.00" fill="#5a5a5a" />
<rect x="478.00" y="182.10" width="1.60" height="1.00" fill="#5a5a5a" />
<rect x="481.20" y="182.10" width="1.60" height="1.00" fill="#5a5a5a" />
<rect x="484.40" y="182.10" width="1.60" height="1.00" fill="#5a5a5a" />
<rect x="487.60" y="182.10" width="1.60" height="1.00" fill="#5a5a5a" />
<rect x="490.80" y="182.10" width="1.60" height="1.00" fill="#5a5a5a" />
<rect x="494.00" y="182.10" width="1.60" height="1.00" fill="#5a5a5a" />
<rect x="497.20" y="182.10" width="1.60" height="1.00" fill="#5a5a5a" />
<rect x="500.40" y="182.10" width="1.60" height="1.00" fill="#5a5a5a" />
<rect x="503.60" y="182.10" width="1.60" height="1.00" fill="#5a5a5a" />
<rect x="478.60" y="191.60" width="9.00" height="2.90" fill="#7fb6ee" />
<rect x="494.20" y="191.60" width="8.80" height="2.90" fill="#7fb6ee" />
<rect x="489.50" y="191.80" width="3.00" height="2.50" fill="#555" />
<rect x="478.20" y="195.80" width="1.60" height="1.20" fill="#e8e8e8" />
<rect x="482.20" y="195.80" width="1.60" height="1.20" fill="#e8e8e8" />
<rect x="486.20" y="195.80" width="1.60" height="1.20" fill="#e8e8e8" />
<rect x="493.20" y="195.80" width="1.60" height="1.20" fill="#e8e8e8" />
<rect x="497.20" y="195.80" width="1.60" height="1.20" fill="#e8e8e8" />
<rect x="501.20" y="195.80" width="1.60" height="1.20" fill="#e8e8e8" />
<circle cx="478.5" cy="199.2" r="0.9" fill="#c04050"/>
<circle cx="482.5" cy="199.2" r="0.9" fill="#c04050"/>
<circle cx="487" cy="199.2" r="0.9" fill="#c04050"/>
<circle cx="493.5" cy="199.2" r="0.9" fill="#c04050"/>
<circle cx="498" cy="199.2" r="0.9" fill="#c04050"/>
<circle cx="503" cy="199.2" r="0.9" fill="#c04050"/>
<circle cx="478.5" cy="203.7" r="0.9" fill="#c04050"/>
<circle cx="482.5" cy="203.7" r="0.9" fill="#c04050"/>
<circle cx="487" cy="203.7" r="0.9" fill="#c04050"/>
<circle cx="493.5" cy="203.7" r="0.9" fill="#c04050"/>
<circle cx="498" cy="203.7" r="0.9" fill="#c04050"/>
<circle cx="503" cy="203.7" r="0.9" fill="#c04050"/>
<rect x="474.00" y="206.50" width="30.00" height="0.60" fill="#666" />
<rect x="469.20" y="178.30" width="1.80" height="1.40" fill="#ddd" />
<rect x="469.20" y="184.30" width="1.80" height="1.40" fill="#ddd" />
<rect x="469.20" y="190.30" width="1.80" height="1.40" fill="#d04040" />
<rect x="469.20" y="196.30" width="1.80" height="1.40" fill="#ddd" />
<rect x="469.20" y="202.30" width="1.80" height="1.40" fill="#ddd" />
<rect x="469.20" y="208.30" width="1.80" height="1.40" fill="#d04040" />
<rect x="469.20" y="214.30" width="1.80" height="1.40" fill="#c04040" />
<rect x="511.00" y="189.00" width="3.00" height="13.00" fill="#3a5a30" />
<rect x="511.00" y="188.50" width="3.00" height="1.40" fill="#d03030" />
<rect x="511.50" y="191.00" width="2.00" height="10.00" fill="#6a8a3a" />
<rect x="510.50" y="170.00" width="3.00" height="1.50" fill="#b09a70" />
<rect x="510.50" y="173.00" width="3.00" height="1.50" fill="#b09a70" />
<rect x="510.50" y="176.00" width="3.00" height="1.50" fill="#b09a70" />
<rect x="469.40" y="229.00" width="2.70" height="4.20" fill="#f4f4f4" />
<rect x="475.90" y="229.00" width="2.70" height="4.20" fill="#f4f4f4" />
<rect x="482.30" y="229.00" width="2.70" height="4.20" fill="#f4f4f4" />
<rect x="488.80" y="229.00" width="2.70" height="4.20" fill="#f4f4f4" />
<rect x="494.80" y="229.00" width="2.80" height="4.20" fill="#e82020" />
<rect x="501.60" y="229.00" width="2.80" height="4.20" fill="#e82020" />
<rect x="508.40" y="229.00" width="2.80" height="4.20" fill="#e82020" />
<rect x="472.20" y="210.00" width="1.20" height="18.00" fill="#222" />
<rect x="471.80" y="219.20" width="2.00" height="1.60" fill="#d03030" />
<rect x="472.00" y="225.00" width="1.60" height="0.80" fill="#777" />
<rect x="478.40" y="210.00" width="1.20" height="18.00" fill="#222" />
<rect x="478.00" y="219.20" width="2.00" height="1.60" fill="#d03030" />
<rect x="478.20" y="225.00" width="1.60" height="0.80" fill="#777" />
<rect x="484.70" y="210.00" width="1.20" height="18.00" fill="#222" />
<rect x="484.30" y="219.20" width="2.00" height="1.60" fill="#d03030" />
<rect x="484.50" y="225.00" width="1.60" height="0.80" fill="#777" />
<rect x="490.90" y="210.00" width="1.20" height="18.00" fill="#222" />
<rect x="490.50" y="219.20" width="2.00" height="1.60" fill="#d03030" />
<rect x="490.70" y="225.00" width="1.60" height="0.80" fill="#777" />
<rect x="496.40" y="210.00" width="1.20" height="18.00" fill="#222" />
<rect x="502.90" y="210.00" width="1.20" height="18.00" fill="#222" />
<polygon points="588,191 717,191 724,194 581,194" fill="#2a2624"/>
<rect x="581.00" y="194.00" width="143.00" height="23.40" fill="#1f1c1a" />
<circle cx="583.6" cy="198.5" r="1.6" fill="#eee"/>
<circle cx="721.4" cy="198.5" r="1.6" fill="#eee"/>
<circle cx="583.6" cy="212.5" r="1.6" fill="#eee"/>
<circle cx="721.4" cy="212.5" r="1.6" fill="#eee"/>
<rect x="585.50" y="203.50" width="2.50" height="3.50" fill="#ccc" />
<ellipse cx="592.5" cy="200.5" rx="2" ry="2.8" fill="none" stroke="#888" stroke-width="0.7"/>
<path d="M590.5,208 L592.5,206 L594.5,208" stroke="#aaa" stroke-width="0.6" fill="none"/>
<ellipse cx="598.6" cy="200.5" rx="2" ry="2.8" fill="none" stroke="#888" stroke-width="0.7"/>
<path d="M596.6,208 L598.6,206 L600.6,208" stroke="#aaa" stroke-width="0.6" fill="none"/>
<ellipse cx="604.8" cy="200.5" rx="2" ry="2.8" fill="none" stroke="#888" stroke-width="0.7"/>
<path d="M602.8,208 L604.8,206 L606.8,208" stroke="#aaa" stroke-width="0.6" fill="none"/>
<rect x="609.50" y="198.00" width="4.50" height="5.00" fill="#333" />
<circle cx="611.6" cy="209" r="1.2" fill="#b07090"/>
<rect x="617.00" y="198.70" width="22.00" height="14.30" fill="#c9cbd0" />
<rect x="618.80" y="200.50" width="18.40" height="10.70" fill="#3e3ca8" />
<circle cx="644.5" cy="199.5" r="0.9" fill="#8a7ab8"/>
<circle cx="644.5" cy="209" r="2.3" fill="#333a48"/>
<circle cx="651" cy="199.5" r="0.9" fill="#8a7ab8"/>
<circle cx="651" cy="209" r="2.3" fill="#333a48"/>
<circle cx="657.5" cy="199.5" r="0.9" fill="#8a7ab8"/>
<circle cx="657.5" cy="209" r="2.3" fill="#333a48"/>
<rect x="661.50" y="196.00" width="16.00" height="19.00" fill="#26221f" stroke="#3a3634" stroke-width="0.4"/>
<ellipse cx="680.8" cy="205.5" rx="3.4" ry="5" fill="none" stroke="#ddd" stroke-width="1.2"/>
<path d="M677,210 Q680.8,214 684.6,210" stroke="#eee" stroke-width="1.4" fill="none"/>
<rect x="688.50" y="196.00" width="2.20" height="12.00" fill="#3c3a3a" />
<rect x="688.60" y="210.50" width="2.00" height="2.20" fill="#7a70b0" />
<rect x="691.70" y="196.00" width="2.20" height="12.00" fill="#3c3a3a" />
<rect x="691.80" y="210.50" width="2.00" height="2.20" fill="#7a70b0" />
<rect x="694.90" y="196.00" width="2.20" height="12.00" fill="#3c3a3a" />
<rect x="695.00" y="210.50" width="2.00" height="2.20" fill="#7a70b0" />
<rect x="698.10" y="196.00" width="2.20" height="12.00" fill="#3c3a3a" />
<rect x="698.20" y="210.50" width="2.00" height="2.20" fill="#7a70b0" />
<rect x="701.30" y="196.00" width="2.20" height="12.00" fill="#3c3a3a" />
<rect x="701.40" y="210.50" width="2.00" height="2.20" fill="#7a70b0" />
<rect x="704.50" y="196.00" width="2.20" height="12.00" fill="#3c3a3a" />
<rect x="704.60" y="210.50" width="2.00" height="2.20" fill="#7a70b0" />
<rect x="710.00" y="204.00" width="2.00" height="2.40" fill="#4060c0" />
<rect x="712.50" y="203.00" width="8.00" height="5.00" fill="#444" />
<polygon points="831.8,51.8 929.3,51.8 952.3,57.2 808.8,57.2" fill="#2f2b29"/>
<rect x="806.80" y="57.20" width="147.50" height="36.10" fill="#312d2a" />
<rect x="807.80" y="57.20" width="6.00" height="36.10" fill="#1f1c1a" rx="1.5"/>
<rect x="947.30" y="57.20" width="6.00" height="36.10" fill="#1f1c1a" rx="1.5"/>
<rect x="808.80" y="63.20" width="3.40" height="24.10" fill="#2e2a28" rx="1"/>
<rect x="948.90" y="63.20" width="3.40" height="24.10" fill="#2e2a28" rx="1"/>
<circle cx="809.1999999999999" cy="59.400000000000006" r="1.5" fill="#eee"/>
<circle cx="809.1999999999999" cy="91.1" r="1.5" fill="#eee"/>
<circle cx="951.9" cy="59.400000000000006" r="1.5" fill="#eee"/>
<circle cx="951.9" cy="91.1" r="1.5" fill="#eee"/>
<rect x="817.30" y="63.70" width="36.00" height="18.00" fill="url(#grill)" />
<rect x="817.30" y="81.70" width="36.00" height="11.10" fill="url(#vent)" />
<rect x="906.80" y="63.70" width="36.00" height="18.00" fill="url(#grill)" />
<rect x="906.80" y="81.70" width="36.00" height="11.10" fill="url(#vent)" />
<path d="M823.0,60.0 L824.736,60.0 L826.844,63.1 L824.736,66.2 L823.0,66.2 Z" fill="#eee"/>
<path d="M830.564,61.24 Q829.2,60.496 828.58,60.62 Q826.472,61.24 826.472,63.1 Q826.472,64.96000000000001 828.58,65.58 Q829.2,65.70400000000001 830.564,64.96000000000001" stroke="#eee" stroke-width="1.86" fill="none"/>
<rect x="863.55" y="61.20" width="34.00" height="1.00" fill="#9a9590" />
<rect x="926.30" y="61.70" width="12.00" height="2.20" fill="#aaa" />
<circle cx="864.9" cy="72.2" r="3.8" fill="#1a1816" stroke="#777" stroke-width="0.6"/>
<rect x="863.75" y="69.20" width="2.40" height="6.00" fill="#555" />
<circle cx="895.8" cy="72.2" r="3.8" fill="#1a1816" stroke="#777" stroke-width="0.6"/>
<rect x="894.55" y="69.20" width="2.40" height="6.00" fill="#555" />
<rect x="876.05" y="66.20" width="9.00" height="1.00" fill="#555" />
<rect x="875.05" y="66.20" width="1.20" height="1.00" fill="#c84a3a" />
<rect x="884.85" y="66.20" width="1.20" height="1.00" fill="#c84a3a" />
<rect x="876.05" y="68.50" width="9.00" height="1.00" fill="#555" />
<rect x="875.05" y="68.50" width="1.20" height="1.00" fill="#c84a3a" />
<rect x="884.85" y="68.50" width="1.20" height="1.00" fill="#c84a3a" />
<rect x="876.05" y="70.80" width="9.00" height="1.00" fill="#555" />
<rect x="875.05" y="70.80" width="1.20" height="1.00" fill="#3a9a4a" />
<rect x="884.85" y="70.80" width="1.20" height="1.00" fill="#3a9a4a" />
<rect x="876.05" y="73.10" width="9.00" height="1.00" fill="#555" />
<rect x="875.05" y="73.10" width="1.20" height="1.00" fill="#3a6ac0" />
<rect x="884.85" y="73.10" width="1.20" height="1.00" fill="#3a6ac0" />
<rect x="875.05" y="81.20" width="11.00" height="7.50" fill="#1a1715" stroke="#777" stroke-width="0.6" rx="1"/>
<rect x="876.55" y="82.70" width="1.20" height="4.50" fill="#c33" />
<polygon points="834.7,178.8 932.7,178.8 955.7,184.2 811.7,184.2" fill="#2f2b29"/>
<rect x="809.70" y="184.20" width="148.00" height="37.00" fill="#312d2a" />
<rect x="810.70" y="184.20" width="6.00" height="37.00" fill="#1f1c1a" rx="1.5"/>
<rect x="950.70" y="184.20" width="6.00" height="37.00" fill="#1f1c1a" rx="1.5"/>
<rect x="811.70" y="190.20" width="3.40" height="25.00" fill="#2e2a28" rx="1"/>
<rect x="952.30" y="190.20" width="3.40" height="25.00" fill="#2e2a28" rx="1"/>
<circle cx="812.1" cy="186.39999999999998" r="1.5" fill="#eee"/>
<circle cx="812.1" cy="219.0" r="1.5" fill="#eee"/>
<circle cx="955.3000000000001" cy="186.39999999999998" r="1.5" fill="#eee"/>
<circle cx="955.3000000000001" cy="219.0" r="1.5" fill="#eee"/>
<rect x="820.20" y="190.70" width="36.00" height="18.00" fill="url(#grill)" />
<rect x="820.20" y="208.70" width="36.00" height="12.00" fill="url(#vent)" />
<rect x="910.20" y="190.70" width="36.00" height="18.00" fill="url(#grill)" />
<rect x="910.20" y="208.70" width="36.00" height="12.00" fill="url(#vent)" />
<path d="M825.9000000000001,187.0 L827.6360000000001,187.0 L829.7440000000001,190.1 L827.6360000000001,193.2 L825.9000000000001,193.2 Z" fill="#eee"/>
<path d="M833.464,188.24 Q832.1000000000001,187.496 831.4800000000001,187.62 Q829.3720000000001,188.24 829.3720000000001,190.1 Q829.3720000000001,191.96 831.4800000000001,192.58 Q832.1000000000001,192.704 833.464,191.96" stroke="#eee" stroke-width="1.86" fill="none"/>
<rect x="866.70" y="188.20" width="34.00" height="1.00" fill="#9a9590" />
<rect x="929.70" y="188.70" width="12.00" height="2.20" fill="#aaa" />
<circle cx="868.1" cy="199.2" r="3.8" fill="#1a1816" stroke="#777" stroke-width="0.6"/>
<rect x="866.90" y="196.20" width="2.40" height="6.00" fill="#555" />
<circle cx="898.9" cy="199.2" r="3.8" fill="#1a1816" stroke="#777" stroke-width="0.6"/>
<rect x="897.70" y="196.20" width="2.40" height="6.00" fill="#555" />
<rect x="879.20" y="193.20" width="9.00" height="1.00" fill="#555" />
<rect x="878.20" y="193.20" width="1.20" height="1.00" fill="#c84a3a" />
<rect x="888.00" y="193.20" width="1.20" height="1.00" fill="#c84a3a" />
<rect x="879.20" y="195.50" width="9.00" height="1.00" fill="#555" />
<rect x="878.20" y="195.50" width="1.20" height="1.00" fill="#c84a3a" />
<rect x="888.00" y="195.50" width="1.20" height="1.00" fill="#c84a3a" />
<rect x="879.20" y="197.80" width="9.00" height="1.00" fill="#555" />
<rect x="878.20" y="197.80" width="1.20" height="1.00" fill="#3a9a4a" />
<rect x="888.00" y="197.80" width="1.20" height="1.00" fill="#3a9a4a" />
<rect x="879.20" y="200.10" width="9.00" height="1.00" fill="#555" />
<rect x="878.20" y="200.10" width="1.20" height="1.00" fill="#3a6ac0" />
<rect x="888.00" y="200.10" width="1.20" height="1.00" fill="#3a6ac0" />
<rect x="878.20" y="208.20" width="11.00" height="7.50" fill="#1a1715" stroke="#777" stroke-width="0.6" rx="1"/>
<rect x="879.70" y="209.70" width="1.20" height="4.50" fill="#c33" />
<path d="M1031.1,14.1 Q1046,11.6 1062.7,14.299999999999999 L1062.7,60.1 Q1050,63.1 1037,61.4 L1031.1,59.7 Z" fill="#3c3938"/>
<path d="M1037,15.6 Q1050,14.1 1062.7,15.3 L1062.7,60.1 Q1050,62.6 1037,61.4 Z" fill="#2b2928"/>
<path d="M1031.1,14.1 Q1046,11.6 1062.7,14.299999999999999 L1062.7,15.5 Q1050,13.9 1037,15.6 L1031.1,15.3 Z" fill="#6a6766"/>
<rect x="1049.50" y="56.10" width="3.00" height="2.20" fill="#ddd" />
<path d="M1031.1,74.9 Q1046,72.4 1062.7,75.10000000000001 L1062.7,120.9 Q1050,123.9 1037,122.2 L1031.1,120.5 Z" fill="#3c3938"/>
<path d="M1037,76.4 Q1050,74.9 1062.7,76.10000000000001 L1062.7,120.9 Q1050,123.4 1037,122.2 Z" fill="#2b2928"/>
<path d="M1031.1,74.9 Q1046,72.4 1062.7,75.10000000000001 L1062.7,76.30000000000001 Q1050,74.7 1037,76.4 L1031.1,76.10000000000001 Z" fill="#6a6766"/>
<rect x="1049.50" y="116.90" width="3.00" height="2.20" fill="#ddd" />
<circle cx="1051.4" cy="166.3" r="18.2" fill="url(#ceil)"/>
<circle cx="1051.4" cy="166.3" r="1.5" fill="#8a8e94"/>
<circle cx="1053" cy="231.4" r="18.2" fill="url(#ceil)"/>
<circle cx="1053" cy="231.4" r="1.5" fill="#8a8e94"/>
<path d="M334,348.5 L398,343 L389.5,361 L343,365.8 Z" fill="url(#sock)"/>
<path d="M331.5,310.8 Q330.5,309.3 334,309.2 L396.5,309 Q399.5,309 398.6,311.2 L395.8,337.5 L402,340.5 Q403.8,342.3 401,344.2 L337,349.8 Q327,350.5 327.5,345 Z" fill="#121212"/>
<path d="M331.5,310.8 Q330.5,309.3 334,309.2 L396.5,309 Q399.5,309 398.6,311.2 L398.3,313 L331.8,313.3 Z" fill="#1e1e1e"/>
<rect x="337.50" y="315.80" width="5.00" height="1.20" fill="#aaa" />
<circle cx="350.5" cy="319" r="2.2" fill="none" stroke="#aaa" stroke-width="0.6"/>
<circle cx="359.3" cy="319.5" r="2" fill="#c8a830"/><circle cx="359.3" cy="319.5" r="0.8" fill="#6a5a20"/>
<rect x="358.50" y="315.50" width="1.60" height="1.00" fill="#888" />
<path d="M357,324.5 L359,323.5 L361,324.5 L361,333 L357,333 Z" fill="none" stroke="#999" stroke-width="0.6"/>
<rect x="355.50" y="336.50" width="7.00" height="0.90" fill="#777" />
<line x1="342" y1="324" x2="342" y2="336" stroke="#333" stroke-width="0.6"/>
<line x1="352" y1="324" x2="352" y2="336" stroke="#333" stroke-width="0.6"/>
<path d="M376,318 L393,317 L392.2,334.5 L375.5,335.5 Z" fill="#1a1a1a" stroke="#3a3a3a" stroke-width="0.7"/>
<path d="M380,322 L383,321 M386,326 L389,326 M380,329 L383,330" stroke="#555" stroke-width="0.8"/>
<rect x="377.50" y="336.60" width="12.00" height="0.90" fill="#777" />
<path d="M381.40,305.00 L381.40,318.60" fill="none" stroke="#3cc172" stroke-width="2" stroke-linejoin="round" />
<polygon points="563.5,307.3 721.5,307.3 748.2,314.2 555.3,314.2" fill="#242424"/>
<rect x="555.30" y="314.20" width="192.90" height="103.50" fill="url(#mat)" />
<rect x="555.30" y="314.20" width="192.90" height="103.50" fill="url(#brush)" />
<ellipse cx="558.6" cy="331.5" rx="2.3" ry="1.5" fill="#eee"/>
<ellipse cx="558.6" cy="401" rx="2.3" ry="1.5" fill="#eee"/>
<ellipse cx="744.8" cy="331.5" rx="2.3" ry="1.5" fill="#eee"/>
<ellipse cx="744.8" cy="401" rx="2.3" ry="1.5" fill="#eee"/>
<path d="M585.5,320.8 L586.9,320.8 L588.6,323.3 L586.9,325.8 L585.5,325.8 Z" fill="#eee"/>
<path d="M591.6,321.8 Q590.5,321.2 590.0,321.3 Q588.3,321.8 588.3,323.3 Q588.3,324.8 590.0,325.3 Q590.5,325.40000000000003 591.6,324.8" stroke="#eee" stroke-width="1.50" fill="none"/>
<rect x="595.50" y="321.20" width="7.00" height="1.60" fill="#aaa" />
<rect x="595.50" y="323.40" width="33.00" height="1.30" fill="#888" />
<rect x="573.00" y="338.60" width="60.00" height="0.50" fill="#666" />
<rect x="643.60" y="338.60" width="59.80" height="0.50" fill="#666" />
<rect x="706.60" y="338.60" width="22.40" height="0.50" fill="#666" />
<rect x="573.00" y="344.60" width="6.60" height="5.00" fill="#0e0e0e" rx="1.6"/>
<rect x="573.30" y="344.10" width="6.10" height="4.60" fill="#dcdcdc" rx="1.5"/>
<rect x="575.40" y="345.70" width="1.90" height="1.40" fill="#6a6a6a" />
<rect x="580.60" y="344.60" width="6.60" height="5.00" fill="#0e0e0e" rx="1.6"/>
<rect x="580.90" y="344.10" width="6.10" height="4.60" fill="#dcdcdc" rx="1.5"/>
<rect x="583.00" y="345.70" width="1.90" height="1.40" fill="#6a6a6a" />
<rect x="588.20" y="344.60" width="6.60" height="5.00" fill="#0e0e0e" rx="1.6"/>
<rect x="588.50" y="344.10" width="6.10" height="4.60" fill="#dcdcdc" rx="1.5"/>
<rect x="590.60" y="345.70" width="1.90" height="1.40" fill="#6a6a6a" />
<rect x="595.80" y="344.60" width="6.60" height="5.00" fill="#0e0e0e" rx="1.6"/>
<rect x="596.10" y="344.10" width="6.10" height="4.60" fill="#dcdcdc" rx="1.5"/>
<rect x="598.20" y="345.70" width="1.90" height="1.40" fill="#6a6a6a" />
<rect x="603.40" y="344.60" width="6.60" height="5.00" fill="#0e0e0e" rx="1.6"/>
<rect x="603.70" y="344.10" width="6.10" height="4.60" fill="#dcdcdc" rx="1.5"/>
<rect x="605.80" y="345.70" width="1.90" height="1.40" fill="#6a6a6a" />
<rect x="611.00" y="344.60" width="6.60" height="5.00" fill="#0e0e0e" rx="1.6"/>
<rect x="611.30" y="344.10" width="6.10" height="4.60" fill="#dcdcdc" rx="1.5"/>
<rect x="613.40" y="345.70" width="1.90" height="1.40" fill="#6a6a6a" />
<rect x="618.60" y="344.60" width="6.60" height="5.00" fill="#0e0e0e" rx="1.6"/>
<rect x="618.90" y="344.10" width="6.10" height="4.60" fill="#dcdcdc" rx="1.5"/>
<rect x="621.00" y="345.70" width="1.90" height="1.40" fill="#6a6a6a" />
<rect x="626.20" y="344.60" width="6.60" height="5.00" fill="#0e0e0e" rx="1.6"/>
<rect x="626.50" y="344.10" width="6.10" height="4.60" fill="#dcdcdc" rx="1.5"/>
<rect x="628.60" y="345.70" width="1.90" height="1.40" fill="#6a6a6a" />
<rect x="643.60" y="344.60" width="6.60" height="5.00" fill="#0e0e0e" rx="1.6"/>
<rect x="643.90" y="344.10" width="6.10" height="4.60" fill="#dcdcdc" rx="1.5"/>
<rect x="646.00" y="345.70" width="1.90" height="1.40" fill="#6a6a6a" />
<rect x="651.20" y="344.60" width="6.60" height="5.00" fill="#0e0e0e" rx="1.6"/>
<rect x="651.50" y="344.10" width="6.10" height="4.60" fill="#dcdcdc" rx="1.5"/>
<rect x="653.60" y="345.70" width="1.90" height="1.40" fill="#6a6a6a" />
<rect x="658.80" y="344.60" width="6.60" height="5.00" fill="#0e0e0e" rx="1.6"/>
<rect x="659.10" y="344.10" width="6.10" height="4.60" fill="#dcdcdc" rx="1.5"/>
<rect x="661.20" y="345.70" width="1.90" height="1.40" fill="#6a6a6a" />
<rect x="666.40" y="344.60" width="6.60" height="5.00" fill="#0e0e0e" rx="1.6"/>
<rect x="666.70" y="344.10" width="6.10" height="4.60" fill="#dcdcdc" rx="1.5"/>
<rect x="668.80" y="345.70" width="1.90" height="1.40" fill="#6a6a6a" />
<rect x="674.00" y="344.60" width="6.60" height="5.00" fill="#0e0e0e" rx="1.6"/>
<rect x="674.30" y="344.10" width="6.10" height="4.60" fill="#dcdcdc" rx="1.5"/>
<rect x="676.40" y="345.70" width="1.90" height="1.40" fill="#6a6a6a" />
<rect x="681.60" y="344.60" width="6.60" height="5.00" fill="#0e0e0e" rx="1.6"/>
<rect x="681.90" y="344.10" width="6.10" height="4.60" fill="#dcdcdc" rx="1.5"/>
<rect x="684.00" y="345.70" width="1.90" height="1.40" fill="#6a6a6a" />
<rect x="689.20" y="344.60" width="6.60" height="5.00" fill="#0e0e0e" rx="1.6"/>
<rect x="689.50" y="344.10" width="6.10" height="4.60" fill="#dcdcdc" rx="1.5"/>
<rect x="691.60" y="345.70" width="1.90" height="1.40" fill="#6a6a6a" />
<rect x="696.80" y="344.60" width="6.60" height="5.00" fill="#0e0e0e" rx="1.6"/>
<rect x="697.10" y="344.10" width="6.10" height="4.60" fill="#dcdcdc" rx="1.5"/>
<rect x="699.20" y="345.70" width="1.90" height="1.40" fill="#6a6a6a" />
<rect x="706.50" y="344.60" width="6.60" height="5.00" fill="#0e0e0e" rx="1.6"/>
<rect x="706.80" y="344.10" width="6.10" height="4.60" fill="#dcdcdc" rx="1.5"/>
<rect x="708.90" y="345.70" width="1.90" height="1.40" fill="#6a6a6a" />
<rect x="714.10" y="344.60" width="6.60" height="5.00" fill="#0e0e0e" rx="1.6"/>
<rect x="714.40" y="344.10" width="6.10" height="4.60" fill="#dcdcdc" rx="1.5"/>
<rect x="716.50" y="345.70" width="1.90" height="1.40" fill="#6a6a6a" />
<rect x="721.70" y="344.60" width="6.60" height="5.00" fill="#0e0e0e" rx="1.6"/>
<rect x="722.00" y="344.10" width="6.10" height="4.60" fill="#dcdcdc" rx="1.5"/>
<rect x="724.10" y="345.70" width="1.90" height="1.40" fill="#6a6a6a" />
<rect x="573.00" y="354.40" width="6.60" height="5.00" fill="#0e0e0e" rx="1.6"/>
<rect x="573.30" y="353.90" width="6.10" height="4.60" fill="#dcdcdc" rx="1.5"/>
<rect x="575.40" y="355.50" width="1.90" height="1.40" fill="#6a6a6a" />
<rect x="580.60" y="354.40" width="6.60" height="5.00" fill="#0e0e0e" rx="1.6"/>
<rect x="580.90" y="353.90" width="6.10" height="4.60" fill="#dcdcdc" rx="1.5"/>
<rect x="583.00" y="355.50" width="1.90" height="1.40" fill="#6a6a6a" />
<rect x="588.20" y="354.40" width="6.60" height="5.00" fill="#0e0e0e" rx="1.6"/>
<rect x="588.50" y="353.90" width="6.10" height="4.60" fill="#dcdcdc" rx="1.5"/>
<rect x="590.60" y="355.50" width="1.90" height="1.40" fill="#6a6a6a" />
<rect x="595.80" y="354.40" width="6.60" height="5.00" fill="#0e0e0e" rx="1.6"/>
<rect x="596.10" y="353.90" width="6.10" height="4.60" fill="#dcdcdc" rx="1.5"/>
<rect x="598.20" y="355.50" width="1.90" height="1.40" fill="#6a6a6a" />
<rect x="603.40" y="354.40" width="6.60" height="5.00" fill="#0e0e0e" rx="1.6"/>
<rect x="603.70" y="353.90" width="6.10" height="4.60" fill="#dcdcdc" rx="1.5"/>
<rect x="605.80" y="355.50" width="1.90" height="1.40" fill="#6a6a6a" />
<rect x="611.00" y="354.40" width="6.60" height="5.00" fill="#0e0e0e" rx="1.6"/>
<rect x="611.30" y="353.90" width="6.10" height="4.60" fill="#dcdcdc" rx="1.5"/>
<rect x="613.40" y="355.50" width="1.90" height="1.40" fill="#6a6a6a" />
<rect x="618.60" y="354.40" width="6.60" height="5.00" fill="#0e0e0e" rx="1.6"/>
<rect x="618.90" y="353.90" width="6.10" height="4.60" fill="#dcdcdc" rx="1.5"/>
<rect x="621.00" y="355.50" width="1.90" height="1.40" fill="#6a6a6a" />
<rect x="626.20" y="354.40" width="6.60" height="5.00" fill="#0e0e0e" rx="1.6"/>
<rect x="626.50" y="353.90" width="6.10" height="4.60" fill="#dcdcdc" rx="1.5"/>
<rect x="628.60" y="355.50" width="1.90" height="1.40" fill="#6a6a6a" />
<rect x="643.60" y="354.40" width="6.60" height="5.00" fill="#0e0e0e" rx="1.6"/>
<rect x="643.90" y="353.90" width="6.10" height="4.60" fill="#dcdcdc" rx="1.5"/>
<rect x="646.00" y="355.50" width="1.90" height="1.40" fill="#6a6a6a" />
<rect x="651.20" y="354.40" width="6.60" height="5.00" fill="#0e0e0e" rx="1.6"/>
<rect x="651.50" y="353.90" width="6.10" height="4.60" fill="#dcdcdc" rx="1.5"/>
<rect x="653.60" y="355.50" width="1.90" height="1.40" fill="#6a6a6a" />
<rect x="658.80" y="354.40" width="6.60" height="5.00" fill="#0e0e0e" rx="1.6"/>
<rect x="659.10" y="353.90" width="6.10" height="4.60" fill="#dcdcdc" rx="1.5"/>
<rect x="661.20" y="355.50" width="1.90" height="1.40" fill="#6a6a6a" />
<rect x="666.40" y="354.40" width="6.60" height="5.00" fill="#0e0e0e" rx="1.6"/>
<rect x="666.70" y="353.90" width="6.10" height="4.60" fill="#dcdcdc" rx="1.5"/>
<rect x="668.80" y="355.50" width="1.90" height="1.40" fill="#6a6a6a" />
<rect x="674.00" y="354.40" width="6.60" height="5.00" fill="#0e0e0e" rx="1.6"/>
<rect x="674.30" y="353.90" width="6.10" height="4.60" fill="#dcdcdc" rx="1.5"/>
<rect x="676.40" y="355.50" width="1.90" height="1.40" fill="#6a6a6a" />
<rect x="681.60" y="354.40" width="6.60" height="5.00" fill="#0e0e0e" rx="1.6"/>
<rect x="681.90" y="353.90" width="6.10" height="4.60" fill="#dcdcdc" rx="1.5"/>
<rect x="684.00" y="355.50" width="1.90" height="1.40" fill="#6a6a6a" />
<rect x="689.20" y="354.40" width="6.60" height="5.00" fill="#0e0e0e" rx="1.6"/>
<rect x="689.50" y="353.90" width="6.10" height="4.60" fill="#dcdcdc" rx="1.5"/>
<rect x="691.60" y="355.50" width="1.90" height="1.40" fill="#6a6a6a" />
<rect x="696.80" y="354.40" width="6.60" height="5.00" fill="#0e0e0e" rx="1.6"/>
<rect x="697.10" y="353.90" width="6.10" height="4.60" fill="#dcdcdc" rx="1.5"/>
<rect x="699.20" y="355.50" width="1.90" height="1.40" fill="#6a6a6a" />
<rect x="706.50" y="354.40" width="6.60" height="5.00" fill="#0e0e0e" rx="1.6"/>
<rect x="706.80" y="353.90" width="6.10" height="4.60" fill="#dcdcdc" rx="1.5"/>
<rect x="708.90" y="355.50" width="1.90" height="1.40" fill="#6a6a6a" />
<rect x="714.10" y="354.40" width="6.60" height="5.00" fill="#0e0e0e" rx="1.6"/>
<rect x="714.40" y="353.90" width="6.10" height="4.60" fill="#dcdcdc" rx="1.5"/>
<rect x="716.50" y="355.50" width="1.90" height="1.40" fill="#6a6a6a" />
<rect x="721.70" y="354.40" width="6.60" height="5.00" fill="#0e0e0e" rx="1.6"/>
<rect x="722.00" y="353.90" width="6.10" height="4.60" fill="#dcdcdc" rx="1.5"/>
<rect x="724.10" y="355.50" width="1.90" height="1.40" fill="#6a6a6a" />
<path d="M96.2,463.5 Q96.2,457.3 120.55000000000001,457.3 Q144.9,457.3 144.9,463.5 Q144.9,467.5 137.2,470.5 L103.9,470.5 Q96.2,467.5 96.2,463.5 Z" fill="url(#camfl)"/>
<path d="M98.2,461 Q120.55000000000001,456.5 142.9,461" stroke="#e0e0e0" stroke-width="1" fill="none"/>
<path d="M97.2,465 Q120.55000000000001,468 143.9,465" stroke="#7a7a7a" stroke-width="0.8" fill="none"/>
<rect x="104.00" y="469.50" width="33.00" height="26.00" fill="url(#cam)" />
<rect x="103.00" y="468.50" width="35.00" height="2.20" fill="#d8d8d8" />
<path d="M104.2,494.5 L137.2,494.5 Q138.2,510.8 120.55000000000001,510.8 Q103.2,510.8 104.2,494.5 Z" fill="#c4c4c4"/>
<path d="M106.2,495 L135.2,495 Q135.2,509 120.55000000000001,509 Q106.2,509 106.2,495 Z" fill="#121212"/>
<circle cx="116.7" cy="503" r="3" fill="#2a1e1e" stroke="#6a6a6a" stroke-width="0.6"/>
<circle cx="116.0" cy="502.3" r="0.8" fill="#a07070"/>
<path d="M180.5,463.5 Q180.5,457.3 204.85,457.3 Q229.2,457.3 229.2,463.5 Q229.2,467.5 221.5,470.5 L188.2,470.5 Q180.5,467.5 180.5,463.5 Z" fill="url(#camfl)"/>
<path d="M182.5,461 Q204.85,456.5 227.2,461" stroke="#e0e0e0" stroke-width="1" fill="none"/>
<path d="M181.5,465 Q204.85,468 228.2,465" stroke="#7a7a7a" stroke-width="0.8" fill="none"/>
<rect x="188.30" y="469.50" width="33.00" height="26.00" fill="url(#cam)" />
<rect x="187.30" y="468.50" width="35.00" height="2.20" fill="#d8d8d8" />
<path d="M188.5,494.5 L221.5,494.5 Q222.5,510.8 204.85,510.8 Q187.5,510.8 188.5,494.5 Z" fill="#c4c4c4"/>
<path d="M190.5,495 L219.5,495 Q219.5,509 204.85,509 Q190.5,509 190.5,495 Z" fill="#121212"/>
<circle cx="201.0" cy="503" r="3" fill="#2a1e1e" stroke="#6a6a6a" stroke-width="0.6"/>
<circle cx="200.3" cy="502.3" r="0.8" fill="#a07070"/>
<polygon points="395,437.7 524,437.7 543.5,441.2 375.3,441.2" fill="#303234"/>
<rect x="375.30" y="441.20" width="168.20" height="28.10" fill="#282828" />
<rect x="375.30" y="441.20" width="168.20" height="1.00" fill="#4a4e52" />
<ellipse cx="378.6" cy="447.5" rx="1.8" ry="1.7" fill="#eee"/>
<ellipse cx="378.6" cy="463.5" rx="1.8" ry="1.7" fill="#eee"/>
<ellipse cx="540.2" cy="447.5" rx="1.8" ry="1.7" fill="#eee"/>
<ellipse cx="540.2" cy="463.5" rx="1.8" ry="1.7" fill="#eee"/>
<path d="M403,446.2 L404.288,446.2 L405.852,448.5 L404.288,450.8 L403,450.8 Z" fill="#eee"/>
<path d="M408.612,447.12 Q407.6,446.568 407.14,446.65999999999997 Q405.576,447.12 405.576,448.5 Q405.576,449.88 407.14,450.34 Q407.6,450.432 408.612,449.88" stroke="#eee" stroke-width="1.38" fill="none"/>
<rect x="408.50" y="447.60" width="20.00" height="1.60" fill="#888" />
<rect x="432.00" y="454.00" width="20.00" height="1.00" fill="#999" />
<rect x="432.00" y="456.50" width="1.20" height="1.60" fill="#3aa050" />
<rect x="432.00" y="459.50" width="1.00" height="1.00" fill="#777" />
<rect x="434.40" y="456.50" width="1.20" height="1.60" fill="#3aa050" />
<rect x="434.40" y="459.50" width="1.00" height="1.00" fill="#777" />
<rect x="436.80" y="456.50" width="1.20" height="1.60" fill="#3aa050" />
<rect x="436.80" y="459.50" width="1.00" height="1.00" fill="#777" />
<rect x="439.20" y="456.50" width="1.20" height="1.60" fill="#3aa050" />
<rect x="439.20" y="459.50" width="1.00" height="1.00" fill="#777" />
<rect x="441.60" y="456.50" width="1.20" height="1.60" fill="#3aa050" />
<rect x="441.60" y="459.50" width="1.00" height="1.00" fill="#777" />
<rect x="444.00" y="456.50" width="1.20" height="1.60" fill="#3aa050" />
<rect x="444.00" y="459.50" width="1.00" height="1.00" fill="#777" />
<rect x="446.40" y="456.50" width="1.20" height="1.60" fill="#3aa050" />
<rect x="446.40" y="459.50" width="1.00" height="1.00" fill="#777" />
<rect x="448.80" y="456.50" width="1.20" height="1.60" fill="#3aa050" />
<rect x="448.80" y="459.50" width="1.00" height="1.00" fill="#777" />
<rect x="451.20" y="456.50" width="1.20" height="1.60" fill="#3aa050" />
<rect x="451.20" y="459.50" width="1.00" height="1.00" fill="#777" />
<rect x="471.50" y="454.00" width="20.00" height="1.00" fill="#999" />
<rect x="471.50" y="456.50" width="1.20" height="1.60" fill="#3aa050" />
<rect x="471.50" y="459.50" width="1.00" height="1.00" fill="#777" />
<rect x="473.90" y="456.50" width="1.20" height="1.60" fill="#3aa050" />
<rect x="473.90" y="459.50" width="1.00" height="1.00" fill="#777" />
<rect x="476.30" y="456.50" width="1.20" height="1.60" fill="#3aa050" />
<rect x="476.30" y="459.50" width="1.00" height="1.00" fill="#777" />
<rect x="478.70" y="456.50" width="1.20" height="1.60" fill="#3aa050" />
<rect x="478.70" y="459.50" width="1.00" height="1.00" fill="#777" />
<rect x="481.10" y="456.50" width="1.20" height="1.60" fill="#3aa050" />
<rect x="481.10" y="459.50" width="1.00" height="1.00" fill="#777" />
<rect x="483.50" y="456.50" width="1.20" height="1.60" fill="#3aa050" />
<rect x="483.50" y="459.50" width="1.00" height="1.00" fill="#777" />
<rect x="485.90" y="456.50" width="1.20" height="1.60" fill="#3aa050" />
<rect x="485.90" y="459.50" width="1.00" height="1.00" fill="#777" />
<rect x="488.30" y="456.50" width="1.20" height="1.60" fill="#3aa050" />
<rect x="488.30" y="459.50" width="1.00" height="1.00" fill="#777" />
<rect x="490.70" y="456.50" width="1.20" height="1.60" fill="#3aa050" />
<rect x="490.70" y="459.50" width="1.00" height="1.00" fill="#777" />
<rect x="499.00" y="446.00" width="1.50" height="2.00" fill="#bbb" />
<rect x="503.00" y="446.00" width="1.50" height="2.00" fill="#bbb" />
<rect x="507.00" y="446.00" width="1.60" height="2.00" fill="#c33" />
<rect x="518.00" y="445.50" width="3.00" height="1.50" fill="#4a7ad0" />
<rect x="516.00" y="456.00" width="4.50" height="7.00" fill="#333" stroke="#888" stroke-width="0.5"/>
<rect x="511.00" y="459.00" width="1.50" height="2.50" fill="#aaa" />
<path d="M321,527.6 L383.5,528.7 Q387.5,529.3 386.5,533 L376.8,581.5 Q375.8,584.5 372,583.8 L308,570.5 Q304.3,569.5 305.5,566 L317.5,530.5 Q318.5,527.6 321,527.6 Z" fill="#1c1c1c" stroke="#3a3a3a" stroke-width="0.6"/>
<circle cx="343" cy="576" r="0.9" fill="#444"/>
<path d="M322.8,531.8 L376,533.8 L369.5,573.6 L311.4,562.4 Z" fill="#3c3a9e"/>
<polygon points="321,544 330,544.4 329.1,550.4 320.1,550" fill="#1aaee0"/>
<polygon points="332,545 343,545.4 342.1,551.4 331.1,551" fill="#6a52c0"/>
<polygon points="345,545 351,545.4 350.1,551.4 344.1,551" fill="#2ab0e8"/>
<polygon points="352,546 359,546.4 358.1,552.4 351.1,552" fill="#4ab848"/>
<polygon points="319,552 330,552.4 329.1,558.4 318.1,558" fill="#f0682a"/>
<polygon points="331,553 341,553.4 340.1,559.4 330.1,559" fill="#2ab0e0"/>
<polygon points="343,554 350,554.4 349.1,560.4 342.1,560" fill="#e02a7a"/>
<polygon points="351,555 360,555.4 359.1,561.4 350.1,561" fill="#2aa8e0"/>
<polygon points="317,560 323,560.4 322.1,565.4 316.1,565" fill="#3a3a3a"/>
<polygon points="324,561 331,561.4 330.1,567.4 323.1,567" fill="#d02a8a"/>
<polygon points="333,562 342,562.4 341.1,568.4 332.1,568" fill="#1aa0d8"/>
<polygon points="344,563 351,563.4 350.1,569.4 343.1,569" fill="#e06020"/>
<polygon points="352,563 359,563.4 358.1,569.4 351.1,569" fill="#d02a8a"/>
<polygon points="362,547 370,547.4 369.1,554.4 361.1,554" fill="#3ab040"/>
<polygon points="360,557 370,557.4 369.1,564.4 359.1,564" fill="#20a8e0"/>
<polygon points="359,566 367,566.4 366.1,572.4 358.1,572" fill="#7050c0"/>
<line x1="421.5" y1="499" x2="436.8" y2="541" stroke="#1e1e1e" stroke-width="2.4" stroke-linecap="round"/>
<line x1="433.434" y1="531.76" x2="436.8" y2="541" stroke="#1a1a1a" stroke-width="3.4" stroke-linecap="round"/>
<line x1="465" y1="497.8" x2="465" y2="541" stroke="#1e1e1e" stroke-width="2.4" stroke-linecap="round"/>
<line x1="465.0" y1="531.496" x2="465" y2="541" stroke="#1a1a1a" stroke-width="3.4" stroke-linecap="round"/>
<line x1="510.4" y1="499" x2="492" y2="541" stroke="#1e1e1e" stroke-width="2.4" stroke-linecap="round"/>
<line x1="496.048" y1="531.76" x2="492" y2="541" stroke="#1a1a1a" stroke-width="3.4" stroke-linecap="round"/>
<path d="M427,541.5 L501,541.5 Q503,541.5 503,544 L503.5,575 Q503.5,578.7 500,578.7 L428,578.7 Q424.5,578.7 424.5,575 L425,544 Q425,541.5 427,541.5 Z" fill="#1a1a1a"/>
<path d="M425,542.5 L503,542.5 L503,553 Q464,550 425,553 Z" fill="#242424"/>
<path d="M425,554.5 Q464,551 503,554.5 L503,558.5 Q464,555 425,558.5 Z" fill="#3a3a3a"/>
<path d="M425,560 Q464,556.5 503,560 L503,576 Q503,578.7 500,578.7 L428,578.7 Q425,578.7 425,576 Z" fill="#141414"/>
<path d="M461.8,558 L461.8,555 L463.5,556.5 L465.2,555 L465.2,558 Z" fill="#ccc"/>
<path d="M447.0,572 L448.0,570.5 L449.0,572 Z" fill="#b0a040"/>
<path d="M451.4,572 L452.4,570.5 L453.4,572 Z" fill="#b0a040"/>
<path d="M455.8,572 L456.8,570.5 L457.8,572 Z" fill="#b0a040"/>
<path d="M460.2,572 L461.2,570.5 L462.2,572 Z" fill="#b0a040"/>
<path d="M464.6,572 L465.6,570.5 L466.6,572 Z" fill="#b0a040"/>
<rect x="843.50" y="391.70" width="158.80" height="8.00" fill="url(#roller)" rx="3"/>
<rect x="848.30" y="399.70" width="149.90" height="100.70" fill="#1a1a1a" />
<rect x="850.30" y="410.40" width="145.90" height="87.70" fill="#fefefe" />
<rect x="848.00" y="497.60" width="150.50" height="3.00" fill="#4e525e" />
<rect x="852.00" y="394.30" width="6.00" height="1.20" fill="#999" />
<path d="M823.7,563.6 Q825,559.5 841,556 L857,553.2 L905,556 L919,561.5 L917.5,578 L886,595.2 L857.3,593.2 L827,586 Q824,584.5 824,582 Z" fill="#2e2e31"/>
<path d="M823.7,563.6 Q825,559.5 841,556 L857,553.2 L905,556 L919,561.5 L880,569.5 L866,567.5 L826,564.5 Z" fill="url(#proj)"/>
<ellipse cx="846" cy="558.5" rx="8" ry="1.6" fill="#6a64a0" opacity="0.35"/>
<path d="M857,554.5 L875,556 L869,557.5 L857,556.5 Z" fill="#222"/>
<polygon points="866,567.5 873,561 895,562.5 887,569" fill="#1a1a1c"/>
<rect x="826.00" y="566.00" width="16.50" height="18.00" fill="url(#pvent)" />
<path d="M893,571 L917,563.5 L916,577 L892,589 Z" fill="url(#pvent)"/>
<circle cx="869.5" cy="579" r="11.8" fill="#2a2a2c" stroke="#a0a0a0" stroke-width="0.7"/>
<circle cx="872" cy="578" r="5.6" fill="#141414" stroke="#d0d0d0" stroke-width="0.9"/>
<circle cx="872.3" cy="578" r="2.8" fill="#4a2a24"/>
<circle cx="884.5" cy="576.5" r="1.5" fill="#1a1a1a"/>
<rect x="846.50" y="576.30" width="4.50" height="1.60" fill="#ddd" />
<polygon points="796,624.7 875,624.7 882.9,629 786.5,629" fill="#2e2e2e"/>
<rect x="786.50" y="629.00" width="96.40" height="16.30" fill="#1c1c1c" />
<circle cx="788.6" cy="631.5" r="1.2" fill="#ddd"/>
<circle cx="788.6" cy="643" r="1.2" fill="#ddd"/>
<circle cx="880.8" cy="631.5" r="1.2" fill="#ddd"/>
<circle cx="880.8" cy="643" r="1.2" fill="#ddd"/>
<path d="M801.5,632.3 L802.452,632.3 L803.608,634.0 L802.452,635.6999999999999 L801.5,635.6999999999999 Z" fill="#eee"/>
<path d="M805.648,632.9799999999999 Q804.9,632.572 804.56,632.64 Q803.404,632.9799999999999 803.404,634.0 Q803.404,635.02 804.56,635.3599999999999 Q804.9,635.428 805.648,635.02" stroke="#eee" stroke-width="1.02" fill="none"/>
<rect x="805.50" y="633.60" width="9.00" height="1.20" fill="#888" />
<rect x="827.50" y="633.00" width="1.40" height="1.20" fill="#a03030" />
<rect x="827.50" y="637.00" width="1.40" height="1.00" fill="#555" />
<rect x="831.10" y="633.00" width="1.40" height="1.20" fill="#a03030" />
<rect x="831.10" y="637.00" width="1.40" height="1.00" fill="#555" />
<rect x="834.70" y="633.00" width="1.40" height="1.20" fill="#a03030" />
<rect x="834.70" y="637.00" width="1.40" height="1.00" fill="#555" />
<rect x="838.30" y="633.00" width="1.40" height="1.20" fill="#a03030" />
<rect x="838.30" y="637.00" width="1.40" height="1.00" fill="#555" />
<rect x="841.90" y="633.00" width="1.40" height="1.20" fill="#a03030" />
<rect x="841.90" y="637.00" width="1.40" height="1.00" fill="#555" />
<rect x="845.50" y="633.00" width="1.40" height="1.20" fill="#a03030" />
<rect x="845.50" y="637.00" width="1.40" height="1.00" fill="#555" />
<rect x="849.10" y="633.00" width="1.40" height="1.20" fill="#a03030" />
<rect x="849.10" y="637.00" width="1.40" height="1.00" fill="#555" />
<rect x="852.70" y="633.00" width="1.40" height="1.20" fill="#a03030" />
<rect x="852.70" y="637.00" width="1.40" height="1.00" fill="#555" />
<rect x="856.30" y="633.00" width="1.40" height="1.20" fill="#a03030" />
<rect x="856.30" y="637.00" width="1.40" height="1.00" fill="#555" />
<rect x="868.00" y="636.00" width="2.00" height="1.50" fill="#888" />
<polygon points="936,623.7 1014,623.7 1027,631.2 919.7,631.2" fill="#222"/>
<rect x="940.00" y="626.00" width="5.00" height="1.00" fill="#3a3a3a" />
<rect x="948.20" y="626.00" width="5.00" height="1.00" fill="#3a3a3a" />
<rect x="956.40" y="626.00" width="5.00" height="1.00" fill="#3a3a3a" />
<rect x="964.60" y="626.00" width="5.00" height="1.00" fill="#3a3a3a" />
<rect x="972.80" y="626.00" width="5.00" height="1.00" fill="#3a3a3a" />
<rect x="981.00" y="626.00" width="5.00" height="1.00" fill="#3a3a3a" />
<rect x="989.20" y="626.00" width="5.00" height="1.00" fill="#3a3a3a" />
<rect x="997.40" y="626.00" width="5.00" height="1.00" fill="#3a3a3a" />
<rect x="1005.60" y="626.00" width="5.00" height="1.00" fill="#3a3a3a" />
<rect x="919.70" y="631.20" width="107.30" height="15.20" fill="#141414" />
<circle cx="921.6" cy="634" r="1.2" fill="#ddd"/>
<circle cx="921.6" cy="643.5" r="1.2" fill="#ddd"/>
<circle cx="1025" cy="634" r="1.2" fill="#ddd"/>
<circle cx="1025" cy="643.5" r="1.2" fill="#ddd"/>
<ellipse cx="927.8" cy="639.5" rx="2" ry="2.8" fill="#ccc"/>
<rect x="933.50" y="640.00" width="1.50" height="2.00" fill="#3a6ac0" />
<path d="M939,634.8 L940.008,634.8 L941.232,636.5999999999999 L940.008,638.4 L939,638.4 Z" fill="#eee"/>
<path d="M943.392,635.52 Q942.6,635.088 942.24,635.16 Q941.016,635.52 941.016,636.5999999999999 Q941.016,637.68 942.24,638.04 Q942.6,638.112 943.392,637.68" stroke="#eee" stroke-width="1.08" fill="none"/>
<rect x="943.50" y="636.20" width="9.00" height="1.20" fill="#888" />
<rect x="968.50" y="637.00" width="1.60" height="1.60" fill="#d04030" />
<rect x="973.00" y="637.00" width="1.60" height="1.60" fill="#d04030" />
<rect x="977.50" y="637.00" width="1.60" height="1.60" fill="#d04030" />
<rect x="982.00" y="637.00" width="1.60" height="1.60" fill="#d04030" />
<rect x="986.50" y="637.00" width="1.60" height="1.60" fill="#d04030" />
<rect x="991.00" y="637.00" width="1.60" height="1.60" fill="#d04030" />
<rect x="995.50" y="637.00" width="1.60" height="1.60" fill="#d04030" />
<rect x="1000.00" y="637.00" width="1.60" height="1.60" fill="#d04030" />
<text x="70.40" y="78.30" font-size="10.4" fill="#111" stroke="#111" stroke-width="0.15" letter-spacing="-0.230">高集成数字讨论表决会议单元（带</text>
<text x="222.95" y="78.90" font-family="Liberation Mono" font-size="11.6" fill="#111" stroke="#111" stroke-width="0.12" textLength="10.00" lengthAdjust="spacingAndGlyphs">IC</text>
<text x="232.95" y="78.30" font-size="10.4" fill="#111" stroke="#111" stroke-width="0.15" letter-spacing="-0.230">签到）</text>
<text x="399.30" y="67.10" font-size="10.4" fill="#111" stroke="#111" stroke-width="0.15" letter-spacing="-0.230">双手持无线话筒</text>
<text x="863.20" y="43.80" font-size="10.4" fill="#111" stroke="#111" stroke-width="0.15" letter-spacing="-0.230">专业功放</text>
<text x="1083.70" y="40.30" font-size="10.4" fill="#111" stroke="#111" stroke-width="0.15" letter-spacing="-0.230">主音箱</text>
<text x="1085.70" y="100.00" font-size="10.4" fill="#111" stroke="#111" stroke-width="0.15" letter-spacing="-0.230">主音箱</text>
<text x="90.90" y="181.00" font-size="10.4" fill="#111" stroke="#111" stroke-width="0.15" letter-spacing="-0.230">高集成数字会议系统主机</text>
<text x="223.90" y="181.00" font-size="10.4" fill="#111" stroke="#111" stroke-width="0.15" letter-spacing="-0.230">会议数字音频处理器</text>
<text x="526.70" y="188.30" font-size="10.4" fill="#111" stroke="#111" stroke-width="0.15" letter-spacing="-0.230">话筒前级处理器</text>
<text x="857.10" y="164.70" font-size="10.4" fill="#111" stroke="#111" stroke-width="0.15" letter-spacing="-0.230">专业功放</text>
<text x="1084.70" y="168.00" font-size="10.4" fill="#111" stroke="#111" stroke-width="0.15" letter-spacing="-0.230">辅助会议天花喇叭</text>
<text x="1084.70" y="235.30" font-size="10.4" fill="#111" stroke="#111" stroke-width="0.15" letter-spacing="-0.230">辅助会议天花喇叭</text>
<text x="1042.70" y="199.90" font-family="Liberation Mono" font-size="11.6" fill="#111" stroke="#111" stroke-width="0.12" textLength="10.00" lengthAdjust="spacingAndGlyphs">*4</text>
<text x="1052.70" y="199.30" font-size="10.4" fill="#111" stroke="#111" stroke-width="0.15" letter-spacing="-0.230">只</text>
<text x="1042.70" y="263.90" font-family="Liberation Mono" font-size="11.6" fill="#111" stroke="#111" stroke-width="0.12" textLength="10.00" lengthAdjust="spacingAndGlyphs">*2</text>
<text x="1052.70" y="263.30" font-size="10.4" fill="#111" stroke="#111" stroke-width="0.15" letter-spacing="-0.230">只</text>
<text x="393.70" y="257.30" font-size="10.4" fill="#111" stroke="#111" stroke-width="0.15" letter-spacing="-0.230">调音台</text>
<text x="320.70" y="299.30" font-size="10.4" fill="#111" stroke="#111" stroke-width="0.15" letter-spacing="-0.230">弹起式多功能桌插</text>
<text x="587.70" y="297.20" font-size="10.4" fill="#111" stroke="#111" stroke-width="0.15" letter-spacing="-0.230">智能高清混插矩阵</text>
<text x="857.30" y="367.40" font-size="10.4" fill="#111" stroke="#111" stroke-width="0.15" letter-spacing="-0.230">投影幕布</text>
<text x="409.70" y="428.40" font-family="Liberation Mono" font-size="11.6" fill="#111" stroke="#111" stroke-width="0.12" textLength="30.00" lengthAdjust="spacingAndGlyphs">IPHONE</text>
<text x="439.70" y="427.80" font-size="10.4" fill="#111" stroke="#111" stroke-width="0.15" letter-spacing="-0.230">网络主机</text>
<text x="839.70" y="547.20" font-size="10.4" fill="#111" stroke="#111" stroke-width="0.15" letter-spacing="-0.230">投影机</text>
<text x="797.00" y="615.10" font-size="10.4" fill="#111" stroke="#111" stroke-width="0.15" letter-spacing="-0.230">电源控制器</text>
<text x="895.50" y="615.10" font-size="10.4" fill="#111" stroke="#111" stroke-width="0.15" letter-spacing="-0.230">电源时序器</text>
<text x="946.35" y="615.70" font-family="Liberation Mono" font-size="11.6" fill="#111" stroke="#111" stroke-width="0.12" textLength="5.00" lengthAdjust="spacingAndGlyphs">(</text>
<text x="951.35" y="615.10" font-size="10.4" fill="#111" stroke="#111" stroke-width="0.15" letter-spacing="-0.230">接各用电设备</text>
<text x="1012.37" y="615.70" font-family="Liberation Mono" font-size="11.6" fill="#111" stroke="#111" stroke-width="0.12" textLength="5.00" lengthAdjust="spacingAndGlyphs">)</text>
<text x="315.20" y="597.30" font-size="10.4" fill="#111" stroke="#111" stroke-width="0.15" letter-spacing="-0.230">平板电脑</text>
<text x="443.70" y="597.90" font-family="Liberation Mono" font-size="11.6" fill="#111" stroke="#111" stroke-width="0.12" textLength="20.00" lengthAdjust="spacingAndGlyphs">WIFI</text>
<text x="463.70" y="597.30" font-size="10.4" fill="#111" stroke="#111" stroke-width="0.15" letter-spacing="-0.230">路由器</text>
<text x="20.4" y="602" font-size="17" fill="#222" font-family="Liberation Serif" letter-spacing="-0.6">线材图列</text>
<rect x="90.20" y="594.50" width="2.30" height="2.30" fill="#222" />
<rect x="90.20" y="600.60" width="2.30" height="2.30" fill="#222" />
<path d="M25.00,625.20 L74.00,625.20" fill="none" stroke="#262626" stroke-width="2" stroke-linejoin="round" />
<path d="M25.00,650.20 L74.00,650.20" fill="none" stroke="#ffc428" stroke-width="2" stroke-linejoin="round" />
<path d="M25.00,674.30 L74.00,674.30" fill="none" stroke="#ff2a2a" stroke-width="2" stroke-linejoin="round" />
<path d="M149.40,622.10 L198.40,622.10" fill="none" stroke="#2bb8ee" stroke-width="2" stroke-linejoin="round" />
<path d="M149.40,647.50 L198.40,647.50" fill="none" stroke="#a0d870" stroke-width="2" stroke-linejoin="round" />
<path d="M265.00,623.20 L314.00,623.20" fill="none" stroke="#f7cfaa" stroke-width="2" stroke-linejoin="round" />
<path d="M267.80,647.50 L317.20,647.50" fill="none" stroke="#8650b8" stroke-width="2" stroke-linejoin="round" />
<path d="M267.80,668.40 L317.20,668.40" fill="none" stroke="#b3a2cc" stroke-width="2" stroke-linejoin="round" />
<text x="89.70" y="630.60" font-size="10.4" fill="#111" stroke="#111" stroke-width="0.15" letter-spacing="-0.230">电源线</text>
<text x="78.50" y="655.40" font-family="Liberation Mono" font-size="11.6" fill="#111" stroke="#111" stroke-width="0.12" textLength="20.00" lengthAdjust="spacingAndGlyphs">HDMI</text>
<text x="98.50" y="654.80" font-size="10.4" fill="#111" stroke="#111" stroke-width="0.15" letter-spacing="-0.230">视频线</text>
<text x="94.20" y="678.80" font-size="10.4" fill="#111" stroke="#111" stroke-width="0.15" letter-spacing="-0.230">网线</text>
<text x="213.70" y="627.20" font-size="10.4" fill="#111" stroke="#111" stroke-width="0.15" letter-spacing="-0.230">音箱线</text>
<text x="213.70" y="651.60" font-size="10.4" fill="#111" stroke="#111" stroke-width="0.15" letter-spacing="-0.230">音频线</text>
<text x="320.70" y="628.40" font-family="Liberation Mono" font-size="11.6" fill="#111" stroke="#111" stroke-width="0.12" textLength="15.00" lengthAdjust="spacingAndGlyphs">DVI</text>
<text x="335.70" y="627.80" font-size="10.4" fill="#111" stroke="#111" stroke-width="0.15" letter-spacing="-0.230">视频线</text>
<text x="319.70" y="650.30" font-size="10.4" fill="#111" stroke="#111" stroke-width="0.15" letter-spacing="-0.230">会议延长线</text>
<text x="329.70" y="670.30" font-size="10.4" fill="#111" stroke="#111" stroke-width="0.15" letter-spacing="-0.230">控制线</text>
</svg></body></html>
